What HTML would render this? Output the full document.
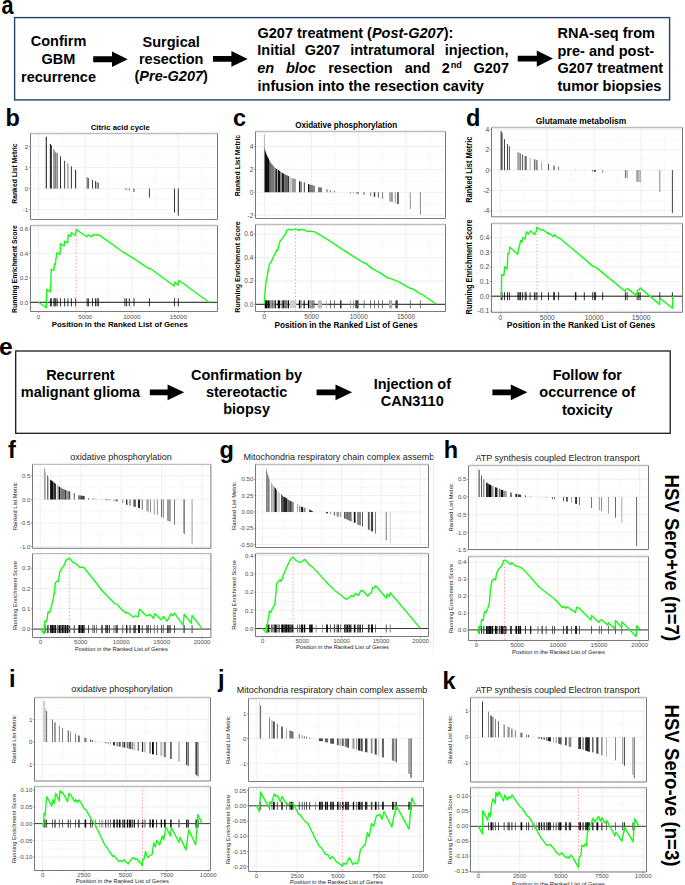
<!DOCTYPE html>
<html><head><meta charset="utf-8"><title>Figure</title>
<style>
html,body{margin:0;padding:0;background:#fff;}
body{width:685px;height:885px;overflow:hidden;}
svg{display:block;}
svg text{font-family:"Liberation Sans", sans-serif;}
</style></head><body>
<svg width="685" height="885" viewBox="0 0 685 885">
<rect width="685" height="885" fill="#fff"/>
<text transform="translate(1.5,13.5) scale(0.9,1.04)" font-size="24" font-weight="bold" fill="#000">a</text>
<rect x="14.6" y="17.6" width="655" height="82.3" fill="none" stroke="#27406b" stroke-width="1.4"/>
<text x="58.5" y="46.3" font-size="14.5" text-anchor="middle" font-weight="bold" font-style="normal" fill="#000" >Confirm</text>
<text x="58.5" y="63.8" font-size="14.5" text-anchor="middle" font-weight="bold" font-style="normal" fill="#000" >GBM</text>
<text x="58.5" y="81.7" font-size="14.5" text-anchor="middle" font-weight="bold" font-style="normal" fill="#000" >recurrence</text>
<polygon points="93.2,56.2 112,56.2 112,51.45 127.7,59.2 112,66.95 112,62.2 93.2,62.2" fill="#000"/>
<text x="171.2" y="46.6" font-size="14.5" text-anchor="middle" font-weight="bold" font-style="normal" fill="#000" >Surgical</text>
<text x="171.2" y="63.5" font-size="14.5" text-anchor="middle" font-weight="bold" font-style="normal" fill="#000" >resection</text>
<text x="171.2" y="80.9" font-size="14.5" text-anchor="middle" font-weight="bold" font-style="normal" fill="#000" >(<tspan font-style="italic">Pre-G207</tspan>)</text>
<polygon points="213,56 231.4,56 231.4,51 247.7,58.9 231.4,66.8 231.4,61.8 213,61.8" fill="#000"/>
<text x="257.5" y="37.5" font-size="14.5" text-anchor="start" font-weight="bold" font-style="normal" fill="#000" >G207 treatment (<tspan font-style="italic">Post-G207</tspan>):</text>
<text x="257.3" y="55" font-size="14.5" text-anchor="start" font-weight="bold" font-style="normal" fill="#000" >Initial</text>
<text x="304.7" y="55" font-size="14.5" text-anchor="start" font-weight="bold" font-style="normal" fill="#000" >G207</text>
<text x="350.2" y="55" font-size="14.5" text-anchor="start" font-weight="bold" font-style="normal" fill="#000" >intratumoral</text>
<text x="444.8" y="55" font-size="14.5" text-anchor="start" font-weight="bold" font-style="normal" fill="#000" >injection,</text>
<text x="257.3" y="72.6" font-size="14.5" text-anchor="start" font-weight="bold" font-style="italic" fill="#000" >en</text>
<text x="285.9" y="72.6" font-size="14.5" text-anchor="start" font-weight="bold" font-style="italic" fill="#000" >bloc</text>
<text x="328.2" y="72.6" font-size="14.5" text-anchor="start" font-weight="bold" font-style="normal" fill="#000" >resection</text>
<text x="404.7" y="72.6" font-size="14.5" text-anchor="start" font-weight="bold" font-style="normal" fill="#000" >and</text>
<text x="441.7" y="72.6" font-size="14.5" text-anchor="start" font-weight="bold" font-style="normal" fill="#000" >2</text>
<text x="473.5" y="72.6" font-size="14.5" text-anchor="start" font-weight="bold" font-style="normal" fill="#000" >G207</text>
<text x="450.7" y="68.3" font-size="9.2" text-anchor="start" font-weight="bold" font-style="normal" fill="#000" >nd</text>
<text x="257.5" y="90.5" font-size="14.5" text-anchor="start" font-weight="bold" font-style="normal" fill="#000" >infusion into the resection cavity</text>
<polygon points="517.7,55.8 536.8,55.8 536.8,50.45 552.9,58.6 536.8,66.75 536.8,61.4 517.7,61.4" fill="#000"/>
<text x="557.5" y="37.6" font-size="14.5" text-anchor="start" font-weight="bold" font-style="normal" fill="#000" >RNA-seq from</text>
<text x="557.5" y="55.5" font-size="14.5" text-anchor="start" font-weight="bold" font-style="normal" fill="#000" >pre- and post-</text>
<text x="557.5" y="72.6" font-size="14.5" text-anchor="start" font-weight="bold" font-style="normal" fill="#000" >G207 treatment</text>
<text x="557.5" y="90.5" font-size="14.5" text-anchor="start" font-weight="bold" font-style="normal" fill="#000" >tumor biopsies</text>
<text x="-1" y="355.2" font-size="24.6" text-anchor="start" font-weight="bold" font-style="normal" fill="#000" >e</text>
<rect x="15.7" y="351" width="654.5" height="82.3" fill="none" stroke="#1a1a1a" stroke-width="1.3"/>
<text x="80.4" y="379.7" font-size="14.5" text-anchor="middle" font-weight="bold" font-style="normal" fill="#000" >Recurrent</text>
<text x="80.4" y="397.3" font-size="14.5" text-anchor="middle" font-weight="bold" font-style="normal" fill="#000" >malignant glioma</text>
<polygon points="149.8,389.4 167.6,389.4 167.6,384.4 184.2,392.3 167.6,400.2 167.6,395.2 149.8,395.2" fill="#000"/>
<text x="246.6" y="379.7" font-size="14.5" text-anchor="middle" font-weight="bold" font-style="normal" fill="#000" >Confirmation by</text>
<text x="246.6" y="397.3" font-size="14.5" text-anchor="middle" font-weight="bold" font-style="normal" fill="#000" >stereotactic</text>
<text x="246.6" y="414.4" font-size="14.5" text-anchor="middle" font-weight="bold" font-style="normal" fill="#000" >biopsy</text>
<polygon points="316.6,389.4 335.5,389.4 335.5,384.4 352.1,392.3 335.5,400.2 335.5,395.2 316.6,395.2" fill="#000"/>
<text x="412.3" y="388.9" font-size="14.5" text-anchor="middle" font-weight="bold" font-style="normal" fill="#000" >Injection of</text>
<text x="412.3" y="406" font-size="14.5" text-anchor="middle" font-weight="bold" font-style="normal" fill="#000" >CAN3110</text>
<polygon points="492.4,389.4 510.8,389.4 510.8,384.4 527.4,392.3 510.8,400.2 510.8,395.2 492.4,395.2" fill="#000"/>
<text x="587.3" y="380" font-size="14.5" text-anchor="middle" font-weight="bold" font-style="normal" fill="#000" >Follow for</text>
<text x="587.3" y="397" font-size="14.5" text-anchor="middle" font-weight="bold" font-style="normal" fill="#000" >occurrence of</text>
<text x="587.3" y="414.6" font-size="14.5" text-anchor="middle" font-weight="bold" font-style="normal" fill="#000" >toxicity</text>
<text x="5.5" y="126" font-size="23.5" text-anchor="start" font-weight="bold" font-style="normal" fill="#000" >b</text>
<text x="120.25" y="130.3" font-size="7.8" text-anchor="middle" font-weight="bold" font-style="normal" fill="#000" textLength="59" lengthAdjust="spacingAndGlyphs">Citric acid cycle</text>
<line x1="61.89" y1="133.5" x2="61.89" y2="219.5" stroke="#f4f4f4" stroke-width="0.6"/>
<line x1="108.45" y1="133.5" x2="108.45" y2="219.5" stroke="#f4f4f4" stroke-width="0.6"/>
<line x1="155.03" y1="133.5" x2="155.03" y2="219.5" stroke="#f4f4f4" stroke-width="0.6"/>
<line x1="201.59" y1="133.5" x2="201.59" y2="219.5" stroke="#f4f4f4" stroke-width="0.6"/>
<line x1="30.5" y1="199.1" x2="217.5" y2="199.1" stroke="#f4f4f4" stroke-width="0.6"/>
<line x1="30.5" y1="178.1" x2="217.5" y2="178.1" stroke="#f4f4f4" stroke-width="0.6"/>
<line x1="30.5" y1="157.1" x2="217.5" y2="157.1" stroke="#f4f4f4" stroke-width="0.6"/>
<line x1="30.5" y1="136.1" x2="217.5" y2="136.1" stroke="#f4f4f4" stroke-width="0.6"/>
<line x1="38.6" y1="133.5" x2="38.6" y2="219.5" stroke="#ebebeb" stroke-width="0.8"/>
<line x1="85.17" y1="133.5" x2="85.17" y2="219.5" stroke="#ebebeb" stroke-width="0.8"/>
<line x1="131.74" y1="133.5" x2="131.74" y2="219.5" stroke="#ebebeb" stroke-width="0.8"/>
<line x1="178.31" y1="133.5" x2="178.31" y2="219.5" stroke="#ebebeb" stroke-width="0.8"/>
<line x1="30.5" y1="209.6" x2="217.5" y2="209.6" stroke="#ebebeb" stroke-width="0.8"/>
<line x1="28.9" y1="209.6" x2="30.5" y2="209.6" stroke="#7a7a7a" stroke-width="0.7"/>
<text x="28.3" y="211.83" font-size="6.2" text-anchor="end" font-weight="normal" font-style="normal" fill="#4d4d4d" >-1</text>
<line x1="30.5" y1="188.6" x2="217.5" y2="188.6" stroke="#ebebeb" stroke-width="0.8"/>
<line x1="28.9" y1="188.6" x2="30.5" y2="188.6" stroke="#7a7a7a" stroke-width="0.7"/>
<text x="28.3" y="190.83" font-size="6.2" text-anchor="end" font-weight="normal" font-style="normal" fill="#4d4d4d" >0</text>
<line x1="30.5" y1="167.6" x2="217.5" y2="167.6" stroke="#ebebeb" stroke-width="0.8"/>
<line x1="28.9" y1="167.6" x2="30.5" y2="167.6" stroke="#7a7a7a" stroke-width="0.7"/>
<text x="28.3" y="169.83" font-size="6.2" text-anchor="end" font-weight="normal" font-style="normal" fill="#4d4d4d" >1</text>
<line x1="30.5" y1="146.6" x2="217.5" y2="146.6" stroke="#ebebeb" stroke-width="0.8"/>
<line x1="28.9" y1="146.6" x2="30.5" y2="146.6" stroke="#7a7a7a" stroke-width="0.7"/>
<text x="28.3" y="148.83" font-size="6.2" text-anchor="end" font-weight="normal" font-style="normal" fill="#4d4d4d" >2</text>
<text transform="translate(17,173.6) rotate(-90)" font-size="6.9" text-anchor="middle" font-weight="bold" fill="#000" textLength="60.1" lengthAdjust="spacingAndGlyphs">Ranked List Metric</text>
<line x1="61.89" y1="225.5" x2="61.89" y2="311.5" stroke="#f4f4f4" stroke-width="0.6"/>
<line x1="108.45" y1="225.5" x2="108.45" y2="311.5" stroke="#f4f4f4" stroke-width="0.6"/>
<line x1="155.03" y1="225.5" x2="155.03" y2="311.5" stroke="#f4f4f4" stroke-width="0.6"/>
<line x1="201.59" y1="225.5" x2="201.59" y2="311.5" stroke="#f4f4f4" stroke-width="0.6"/>
<line x1="30.5" y1="290.05" x2="217.5" y2="290.05" stroke="#f4f4f4" stroke-width="0.6"/>
<line x1="30.5" y1="265.55" x2="217.5" y2="265.55" stroke="#f4f4f4" stroke-width="0.6"/>
<line x1="30.5" y1="241.05" x2="217.5" y2="241.05" stroke="#f4f4f4" stroke-width="0.6"/>
<line x1="38.6" y1="225.5" x2="38.6" y2="311.5" stroke="#ebebeb" stroke-width="0.8"/>
<line x1="85.17" y1="225.5" x2="85.17" y2="311.5" stroke="#ebebeb" stroke-width="0.8"/>
<line x1="131.74" y1="225.5" x2="131.74" y2="311.5" stroke="#ebebeb" stroke-width="0.8"/>
<line x1="178.31" y1="225.5" x2="178.31" y2="311.5" stroke="#ebebeb" stroke-width="0.8"/>
<line x1="30.5" y1="302.3" x2="217.5" y2="302.3" stroke="#ebebeb" stroke-width="0.8"/>
<line x1="28.9" y1="302.3" x2="30.5" y2="302.3" stroke="#7a7a7a" stroke-width="0.7"/>
<text x="28.3" y="304.53" font-size="6.2" text-anchor="end" font-weight="normal" font-style="normal" fill="#4d4d4d" >0.0</text>
<line x1="30.5" y1="277.8" x2="217.5" y2="277.8" stroke="#ebebeb" stroke-width="0.8"/>
<line x1="28.9" y1="277.8" x2="30.5" y2="277.8" stroke="#7a7a7a" stroke-width="0.7"/>
<text x="28.3" y="280.03" font-size="6.2" text-anchor="end" font-weight="normal" font-style="normal" fill="#4d4d4d" >0.2</text>
<line x1="30.5" y1="253.3" x2="217.5" y2="253.3" stroke="#ebebeb" stroke-width="0.8"/>
<line x1="28.9" y1="253.3" x2="30.5" y2="253.3" stroke="#7a7a7a" stroke-width="0.7"/>
<text x="28.3" y="255.53" font-size="6.2" text-anchor="end" font-weight="normal" font-style="normal" fill="#4d4d4d" >0.4</text>
<line x1="30.5" y1="228.8" x2="217.5" y2="228.8" stroke="#ebebeb" stroke-width="0.8"/>
<line x1="28.9" y1="228.8" x2="30.5" y2="228.8" stroke="#7a7a7a" stroke-width="0.7"/>
<text x="28.3" y="231.03" font-size="6.2" text-anchor="end" font-weight="normal" font-style="normal" fill="#4d4d4d" >0.6</text>
<text transform="translate(16.6,269) rotate(-90)" font-size="6.9" text-anchor="middle" font-weight="bold" fill="#000" textLength="87.8" lengthAdjust="spacingAndGlyphs">Running Enrichment Score</text>
<g>
<line x1="46.3" y1="188.6" x2="46.3" y2="136.8" stroke="#222" stroke-width="1.1"/>
<line x1="50.4" y1="188.6" x2="50.4" y2="144.1" stroke="#222" stroke-width="1.1"/>
<line x1="51.4" y1="188.6" x2="51.4" y2="145.3" stroke="#333" stroke-width="1"/>
<line x1="53.9" y1="188.6" x2="53.9" y2="149.3" stroke="#666" stroke-width="1"/>
<line x1="54.9" y1="188.6" x2="54.9" y2="151.4" stroke="#777" stroke-width="1"/>
<line x1="55.8" y1="188.6" x2="55.8" y2="152.3" stroke="#666" stroke-width="1"/>
<line x1="57.2" y1="188.6" x2="57.2" y2="153.1" stroke="#555" stroke-width="1"/>
<line x1="60.5" y1="188.6" x2="60.5" y2="156.4" stroke="#333" stroke-width="1"/>
<line x1="64.6" y1="188.6" x2="64.6" y2="160.7" stroke="#444" stroke-width="1"/>
<line x1="67.9" y1="188.6" x2="67.9" y2="163.4" stroke="#777" stroke-width="1"/>
<line x1="71.4" y1="188.6" x2="71.4" y2="166.3" stroke="#333" stroke-width="1"/>
<line x1="75.6" y1="188.6" x2="75.6" y2="169.8" stroke="#333" stroke-width="1.1"/>
<line x1="87.2" y1="188.6" x2="87.2" y2="177.3" stroke="#555" stroke-width="1"/>
<line x1="88.4" y1="188.6" x2="88.4" y2="178" stroke="#555" stroke-width="1"/>
<line x1="92.5" y1="188.6" x2="92.5" y2="180" stroke="#444" stroke-width="1"/>
<line x1="95.5" y1="188.6" x2="95.5" y2="181.1" stroke="#444" stroke-width="1"/>
<line x1="97.1" y1="188.6" x2="97.1" y2="182" stroke="#666" stroke-width="1"/>
<line x1="98.4" y1="188.6" x2="98.4" y2="182.9" stroke="#666" stroke-width="1"/>
<line x1="124.9" y1="188.6" x2="124.9" y2="189.6" stroke="#444" stroke-width="0.8"/>
<line x1="126.6" y1="188.6" x2="126.6" y2="189.8" stroke="#444" stroke-width="0.8"/>
<line x1="129.3" y1="188.6" x2="129.3" y2="190.4" stroke="#444" stroke-width="0.8"/>
<line x1="134" y1="188.6" x2="134" y2="192" stroke="#444" stroke-width="1"/>
<line x1="149.4" y1="188.6" x2="149.4" y2="197.6" stroke="#444" stroke-width="1"/>
<line x1="174.5" y1="188.6" x2="174.5" y2="212.6" stroke="#333" stroke-width="1"/>
<line x1="178.3" y1="188.6" x2="178.3" y2="215.6" stroke="#333" stroke-width="1"/>
</g>
<line x1="30.5" y1="302.3" x2="217.5" y2="302.3" stroke="#000" stroke-width="0.9"/>
<line x1="46.3" y1="298.3" x2="46.3" y2="306.3" stroke="#000" stroke-width="0.8"/>
<line x1="50.4" y1="298.3" x2="50.4" y2="306.3" stroke="#000" stroke-width="0.8"/>
<line x1="51.4" y1="298.3" x2="51.4" y2="306.3" stroke="#000" stroke-width="0.8"/>
<line x1="53.9" y1="298.3" x2="53.9" y2="306.3" stroke="#000" stroke-width="0.8"/>
<line x1="54.9" y1="298.3" x2="54.9" y2="306.3" stroke="#000" stroke-width="0.8"/>
<line x1="55.8" y1="298.3" x2="55.8" y2="306.3" stroke="#000" stroke-width="0.8"/>
<line x1="57.2" y1="298.3" x2="57.2" y2="306.3" stroke="#000" stroke-width="0.8"/>
<line x1="60.5" y1="298.3" x2="60.5" y2="306.3" stroke="#000" stroke-width="0.8"/>
<line x1="64.6" y1="298.3" x2="64.6" y2="306.3" stroke="#000" stroke-width="0.8"/>
<line x1="67.9" y1="298.3" x2="67.9" y2="306.3" stroke="#000" stroke-width="0.8"/>
<line x1="71.4" y1="298.3" x2="71.4" y2="306.3" stroke="#000" stroke-width="0.8"/>
<line x1="75.6" y1="298.3" x2="75.6" y2="306.3" stroke="#000" stroke-width="0.8"/>
<line x1="87.2" y1="298.3" x2="87.2" y2="306.3" stroke="#000" stroke-width="0.8"/>
<line x1="88.4" y1="298.3" x2="88.4" y2="306.3" stroke="#000" stroke-width="0.8"/>
<line x1="92.5" y1="298.3" x2="92.5" y2="306.3" stroke="#000" stroke-width="0.8"/>
<line x1="95.5" y1="298.3" x2="95.5" y2="306.3" stroke="#000" stroke-width="0.8"/>
<line x1="97.1" y1="298.3" x2="97.1" y2="306.3" stroke="#000" stroke-width="0.8"/>
<line x1="98.4" y1="298.3" x2="98.4" y2="306.3" stroke="#000" stroke-width="0.8"/>
<line x1="124.9" y1="298.3" x2="124.9" y2="306.3" stroke="#000" stroke-width="0.8"/>
<line x1="126.6" y1="298.3" x2="126.6" y2="306.3" stroke="#000" stroke-width="0.8"/>
<line x1="129.3" y1="298.3" x2="129.3" y2="306.3" stroke="#000" stroke-width="0.8"/>
<line x1="134" y1="298.3" x2="134" y2="306.3" stroke="#000" stroke-width="0.8"/>
<line x1="149.4" y1="298.3" x2="149.4" y2="306.3" stroke="#000" stroke-width="0.8"/>
<line x1="174.5" y1="298.3" x2="174.5" y2="306.3" stroke="#000" stroke-width="0.8"/>
<line x1="178.3" y1="298.3" x2="178.3" y2="306.3" stroke="#000" stroke-width="0.8"/>
<line x1="76.2" y1="225.5" x2="76.2" y2="311.5" stroke="#ff8c8c" stroke-width="0.9" stroke-dasharray="1.3,2.1"/>
<polyline points="38.6,302.3 46.4,307.8 46.8,289.4 50.3,292 50.8,283.8 51.3,269 53.9,270.5 54.4,263.9 55.4,264.4 56,258.3 57,252.7 60,254.5 60.5,243.5 64.1,246 64.6,241.2 67.7,243 68.2,234.8 70.8,236.3 71.5,232.7 75.4,235.3 76.2,229.4 86.8,236.8 88.1,234.8 91.7,236.8 93,234.5 95.3,235.1 96.5,234.8 99.4,235.1 124,252.7 132.8,257.9 135.4,259.7 148.5,268.4 150,268.2 174,286 174.8,282.1 178,285.1 178.9,280.3 209,302.3" fill="none" stroke="#19fa19" stroke-width="1.4" stroke-linejoin="round"/>
<line x1="38.6" y1="311.5" x2="38.6" y2="313.1" stroke="#7a7a7a" stroke-width="0.7"/>
<text x="38.6" y="319.1" font-size="6.2" text-anchor="middle" font-weight="normal" font-style="normal" fill="#4d4d4d" >0</text>
<line x1="85.17" y1="311.5" x2="85.17" y2="313.1" stroke="#7a7a7a" stroke-width="0.7"/>
<text x="85.17" y="319.1" font-size="6.2" text-anchor="middle" font-weight="normal" font-style="normal" fill="#4d4d4d" >5000</text>
<line x1="131.74" y1="311.5" x2="131.74" y2="313.1" stroke="#7a7a7a" stroke-width="0.7"/>
<text x="131.74" y="319.1" font-size="6.2" text-anchor="middle" font-weight="normal" font-style="normal" fill="#4d4d4d" >10000</text>
<line x1="178.31" y1="311.5" x2="178.31" y2="313.1" stroke="#7a7a7a" stroke-width="0.7"/>
<text x="178.31" y="319.1" font-size="6.2" text-anchor="middle" font-weight="normal" font-style="normal" fill="#4d4d4d" >15000</text>
<text x="119.85" y="326.8" font-size="7.9" text-anchor="middle" font-weight="bold" font-style="normal" fill="#000" textLength="136" lengthAdjust="spacingAndGlyphs">Position in the Ranked List of Genes</text>
<line x1="30.5" y1="133.5" x2="217.5" y2="133.5" stroke="#bdbdbd" stroke-width="1.3"/>
<polyline points="30.5,133.5 30.5,219.5 217.5,219.5 217.5,133.5" fill="none" stroke="#7a7a7a" stroke-width="1"/>
<line x1="30.5" y1="225.5" x2="217.5" y2="225.5" stroke="#bdbdbd" stroke-width="1.3"/>
<polyline points="30.5,225.5 30.5,311.5 217.5,311.5 217.5,225.5" fill="none" stroke="#7a7a7a" stroke-width="1"/>
<text x="233" y="126" font-size="23.5" text-anchor="start" font-weight="bold" font-style="normal" fill="#000" >c</text>
<text x="346.15" y="128.1" font-size="8.3" text-anchor="middle" font-weight="bold" font-style="normal" fill="#000" textLength="102" lengthAdjust="spacingAndGlyphs">Oxidative phosphorylation</text>
<line x1="288" y1="131.5" x2="288" y2="218.5" stroke="#f4f4f4" stroke-width="0.6"/>
<line x1="335.2" y1="131.5" x2="335.2" y2="218.5" stroke="#f4f4f4" stroke-width="0.6"/>
<line x1="382.4" y1="131.5" x2="382.4" y2="218.5" stroke="#f4f4f4" stroke-width="0.6"/>
<line x1="429.6" y1="131.5" x2="429.6" y2="218.5" stroke="#f4f4f4" stroke-width="0.6"/>
<line x1="255.5" y1="203.75" x2="445.5" y2="203.75" stroke="#f4f4f4" stroke-width="0.6"/>
<line x1="255.5" y1="180.85" x2="445.5" y2="180.85" stroke="#f4f4f4" stroke-width="0.6"/>
<line x1="255.5" y1="157.95" x2="445.5" y2="157.95" stroke="#f4f4f4" stroke-width="0.6"/>
<line x1="255.5" y1="135.05" x2="445.5" y2="135.05" stroke="#f4f4f4" stroke-width="0.6"/>
<line x1="264.4" y1="131.5" x2="264.4" y2="218.5" stroke="#ebebeb" stroke-width="0.8"/>
<line x1="311.6" y1="131.5" x2="311.6" y2="218.5" stroke="#ebebeb" stroke-width="0.8"/>
<line x1="358.8" y1="131.5" x2="358.8" y2="218.5" stroke="#ebebeb" stroke-width="0.8"/>
<line x1="406" y1="131.5" x2="406" y2="218.5" stroke="#ebebeb" stroke-width="0.8"/>
<line x1="255.5" y1="215.2" x2="445.5" y2="215.2" stroke="#ebebeb" stroke-width="0.8"/>
<line x1="253.9" y1="215.2" x2="255.5" y2="215.2" stroke="#7a7a7a" stroke-width="0.7"/>
<text x="253.3" y="217.54" font-size="6.5" text-anchor="end" font-weight="normal" font-style="normal" fill="#4d4d4d" >-2</text>
<line x1="255.5" y1="192.3" x2="445.5" y2="192.3" stroke="#ebebeb" stroke-width="0.8"/>
<line x1="253.9" y1="192.3" x2="255.5" y2="192.3" stroke="#7a7a7a" stroke-width="0.7"/>
<text x="253.3" y="194.64" font-size="6.5" text-anchor="end" font-weight="normal" font-style="normal" fill="#4d4d4d" >0</text>
<line x1="255.5" y1="169.4" x2="445.5" y2="169.4" stroke="#ebebeb" stroke-width="0.8"/>
<line x1="253.9" y1="169.4" x2="255.5" y2="169.4" stroke="#7a7a7a" stroke-width="0.7"/>
<text x="253.3" y="171.74" font-size="6.5" text-anchor="end" font-weight="normal" font-style="normal" fill="#4d4d4d" >2</text>
<line x1="255.5" y1="146.5" x2="445.5" y2="146.5" stroke="#ebebeb" stroke-width="0.8"/>
<line x1="253.9" y1="146.5" x2="255.5" y2="146.5" stroke="#7a7a7a" stroke-width="0.7"/>
<text x="253.3" y="148.84" font-size="6.5" text-anchor="end" font-weight="normal" font-style="normal" fill="#4d4d4d" >4</text>
<text transform="translate(240,165.5) rotate(-90)" font-size="7.7" text-anchor="middle" font-weight="bold" fill="#000" textLength="61.3" lengthAdjust="spacingAndGlyphs">Ranked List Metric</text>
<line x1="288" y1="224.5" x2="288" y2="311.5" stroke="#f4f4f4" stroke-width="0.6"/>
<line x1="335.2" y1="224.5" x2="335.2" y2="311.5" stroke="#f4f4f4" stroke-width="0.6"/>
<line x1="382.4" y1="224.5" x2="382.4" y2="311.5" stroke="#f4f4f4" stroke-width="0.6"/>
<line x1="429.6" y1="224.5" x2="429.6" y2="311.5" stroke="#f4f4f4" stroke-width="0.6"/>
<line x1="255.5" y1="292.6" x2="445.5" y2="292.6" stroke="#f4f4f4" stroke-width="0.6"/>
<line x1="255.5" y1="269.2" x2="445.5" y2="269.2" stroke="#f4f4f4" stroke-width="0.6"/>
<line x1="255.5" y1="245.8" x2="445.5" y2="245.8" stroke="#f4f4f4" stroke-width="0.6"/>
<line x1="264.4" y1="224.5" x2="264.4" y2="311.5" stroke="#ebebeb" stroke-width="0.8"/>
<line x1="311.6" y1="224.5" x2="311.6" y2="311.5" stroke="#ebebeb" stroke-width="0.8"/>
<line x1="358.8" y1="224.5" x2="358.8" y2="311.5" stroke="#ebebeb" stroke-width="0.8"/>
<line x1="406" y1="224.5" x2="406" y2="311.5" stroke="#ebebeb" stroke-width="0.8"/>
<line x1="255.5" y1="304.3" x2="445.5" y2="304.3" stroke="#ebebeb" stroke-width="0.8"/>
<line x1="253.9" y1="304.3" x2="255.5" y2="304.3" stroke="#7a7a7a" stroke-width="0.7"/>
<text x="253.3" y="306.64" font-size="6.5" text-anchor="end" font-weight="normal" font-style="normal" fill="#4d4d4d" >0.0</text>
<line x1="255.5" y1="280.9" x2="445.5" y2="280.9" stroke="#ebebeb" stroke-width="0.8"/>
<line x1="253.9" y1="280.9" x2="255.5" y2="280.9" stroke="#7a7a7a" stroke-width="0.7"/>
<text x="253.3" y="283.24" font-size="6.5" text-anchor="end" font-weight="normal" font-style="normal" fill="#4d4d4d" >0.2</text>
<line x1="255.5" y1="257.5" x2="445.5" y2="257.5" stroke="#ebebeb" stroke-width="0.8"/>
<line x1="253.9" y1="257.5" x2="255.5" y2="257.5" stroke="#7a7a7a" stroke-width="0.7"/>
<text x="253.3" y="259.84" font-size="6.5" text-anchor="end" font-weight="normal" font-style="normal" fill="#4d4d4d" >0.4</text>
<line x1="255.5" y1="234.1" x2="445.5" y2="234.1" stroke="#ebebeb" stroke-width="0.8"/>
<line x1="253.9" y1="234.1" x2="255.5" y2="234.1" stroke="#7a7a7a" stroke-width="0.7"/>
<text x="253.3" y="236.44" font-size="6.5" text-anchor="end" font-weight="normal" font-style="normal" fill="#4d4d4d" >0.6</text>
<text transform="translate(239.6,267) rotate(-90)" font-size="7.7" text-anchor="middle" font-weight="bold" fill="#000" textLength="91.4" lengthAdjust="spacingAndGlyphs">Running Enrichment Score</text>
<g>
<line x1="264.4" y1="192.3" x2="264.4" y2="134.8" stroke="#999" stroke-width="0.7"/>
<line x1="330.3" y1="192.3" x2="330.3" y2="190.1" stroke="#555" stroke-width="0.9"/>
<line x1="334.4" y1="192.3" x2="334.4" y2="191" stroke="#666" stroke-width="0.9"/>
<line x1="350.3" y1="192.3" x2="350.3" y2="193.5" stroke="#555" stroke-width="0.8"/>
<line x1="353.6" y1="192.3" x2="353.6" y2="193.3" stroke="#777" stroke-width="0.8"/>
<line x1="356.9" y1="192.3" x2="356.9" y2="193.7" stroke="#333" stroke-width="1"/>
<line x1="358.2" y1="192.3" x2="358.2" y2="193.7" stroke="#333" stroke-width="1"/>
<line x1="364" y1="192.3" x2="364" y2="194.7" stroke="#666" stroke-width="1.2"/>
<line x1="370.7" y1="192.3" x2="370.7" y2="195.8" stroke="#999" stroke-width="1.5"/>
<line x1="374.5" y1="192.3" x2="374.5" y2="196.8" stroke="#333" stroke-width="1.4"/>
<line x1="378.4" y1="192.3" x2="378.4" y2="197.6" stroke="#555" stroke-width="1"/>
<line x1="382.5" y1="192.3" x2="382.5" y2="198.8" stroke="#888" stroke-width="1.2"/>
<line x1="389.9" y1="192.3" x2="389.9" y2="201.5" stroke="#999" stroke-width="1.4"/>
<line x1="391.3" y1="192.3" x2="391.3" y2="201.8" stroke="#999" stroke-width="1.4"/>
<line x1="392.4" y1="192.3" x2="392.4" y2="202" stroke="#999" stroke-width="1"/>
<line x1="395.3" y1="192.3" x2="395.3" y2="203" stroke="#777" stroke-width="0.8"/>
<line x1="397.6" y1="192.3" x2="397.6" y2="204" stroke="#444" stroke-width="0.9"/>
<line x1="398.3" y1="192.3" x2="398.3" y2="204" stroke="#444" stroke-width="0.9"/>
<line x1="410.3" y1="192.3" x2="410.3" y2="209.1" stroke="#888" stroke-width="0.9"/>
<line x1="420.4" y1="192.3" x2="420.4" y2="214.7" stroke="#888" stroke-width="1"/>
<polygon points="264.1,192.3 264.1,146.33 264.6,148 264.8,148.84 264.8,192.3" fill="#888"/>
<polygon points="264.8,192.3 264.8,148.84 265.1,150.1 266.6,154.5 268.3,158 269.6,160.89 269.6,192.3" fill="#111"/>
<polygon points="269.6,192.3 269.6,160.89 270.1,162 270.9,162.95 270.9,192.3" fill="#555"/>
<polygon points="270.9,192.3 270.9,162.95 272.3,164.6 274,166.61 274,192.3" fill="#777"/>
<polygon points="274,192.3 274,166.61 274.5,167.2 275.3,167.89 275.3,192.3" fill="#999"/>
<polygon points="275.3,192.3 275.3,167.89 276.6,169 277.1,169.31 277.1,192.3" fill="#222"/>
<polygon points="277.1,192.3 277.1,169.31 278,169.86 278,192.3" fill="#999"/>
<polygon points="278,192.3 278,169.86 278.4,170.1 280,171.27 280,192.3" fill="#111"/>
<polygon points="280,192.3 280,171.27 281,172 281.9,172.57 281.9,192.3" fill="#888"/>
<polygon points="281.9,192.3 281.9,172.57 283.2,173.4 284.1,173.85 284.1,192.3" fill="#222"/>
<polygon points="284.1,192.3 284.1,173.85 285.8,174.7 288,175.76 288,192.3" fill="#666"/>
<polygon points="288,192.3 288,175.76 288.5,176 288.9,176.31 288.9,192.3" fill="#111"/>
<polygon points="288.9,192.3 288.9,176.31 290.2,177.3 292,178.04 292,192.3" fill="#ccc"/>
<polygon points="292,192.3 292,178.04 292.4,178.2 295.9,178.98 295.9,192.3" fill="#999"/>
<polygon points="299,192.3 299,180.88 300.3,181.41 300.3,192.3" fill="#222"/>
<polygon points="300.3,192.3 300.3,181.41 301.9,182.06 301.9,192.3" fill="#777"/>
<polygon points="303.8,192.3 303.8,182.28 304.8,182.38 304.8,192.3" fill="#333"/>
<polygon points="308,192.3 308,183.9 309,184.22 309,192.3" fill="#111"/>
<polygon points="309,192.3 309,184.22 312.6,185.37 312.6,192.3" fill="#777"/>
<polygon points="312.6,192.3 312.6,185.37 313,185.5 313.6,185.66 313.6,192.3" fill="#333"/>
<polygon points="313.6,192.3 313.6,185.66 315,186.05 315,192.3" fill="#888"/>
<polygon points="318,192.3 318,187.2 322,187.58 322,192.3" fill="#777"/>
<polygon points="326.2,192.3 326.2,189.11 327.8,189.19 327.8,192.3" fill="#999"/>
</g>
<line x1="255.5" y1="304.3" x2="445.5" y2="304.3" stroke="#000" stroke-width="0.9"/>
<rect x="264.8" y="300.3" width="2.2" height="8" fill="#000"/>
<rect x="267.3" y="300.3" width="2.4" height="8" fill="#111"/>
<rect x="270" y="300.3" width="2" height="8" fill="#999"/>
<rect x="272" y="300.3" width="0.7" height="8" fill="#333"/>
<rect x="272.7" y="300.3" width="2" height="8" fill="#999"/>
<rect x="274.8" y="300.3" width="1.1" height="8" fill="#111"/>
<rect x="277.7" y="300.3" width="2.2" height="8" fill="#000"/>
<rect x="280.6" y="300.3" width="1.1" height="8" fill="#999"/>
<rect x="282.4" y="300.3" width="1.5" height="8" fill="#000"/>
<rect x="283.9" y="300.3" width="3.6" height="8" fill="#777"/>
<rect x="287.9" y="300.3" width="1.1" height="8" fill="#000"/>
<rect x="289.7" y="300.3" width="6.6" height="8" fill="#d0d0d0"/>
<rect x="298.9" y="300.3" width="1.4" height="8" fill="#000"/>
<rect x="300.3" y="300.3" width="1.5" height="8" fill="#999"/>
<rect x="303.6" y="300.3" width="1.1" height="8" fill="#000"/>
<rect x="307.9" y="300.3" width="1.1" height="8" fill="#000"/>
<rect x="309" y="300.3" width="3" height="8" fill="#999"/>
<rect x="312" y="300.3" width="0.7" height="8" fill="#444"/>
<rect x="312.7" y="300.3" width="0.9" height="8" fill="#999"/>
<rect x="313.7" y="300.3" width="0.7" height="8" fill="#444"/>
<rect x="318" y="300.3" width="3.9" height="8" fill="#bbb"/>
<rect x="326.1" y="300.3" width="0.8" height="8" fill="#aaa"/>
<rect x="330" y="300.3" width="0.8" height="8" fill="#444"/>
<rect x="333.9" y="300.3" width="0.8" height="8" fill="#444"/>
<rect x="340" y="300.3" width="1.5" height="8" fill="#333"/>
<rect x="349.9" y="300.3" width="0.8" height="8" fill="#888"/>
<rect x="353.1" y="300.3" width="0.8" height="8" fill="#888"/>
<rect x="355.3" y="300.3" width="3.2" height="8" fill="#444"/>
<rect x="363.7" y="300.3" width="0.8" height="8" fill="#555"/>
<rect x="370.1" y="300.3" width="0.8" height="8" fill="#555"/>
<rect x="374.1" y="300.3" width="0.8" height="8" fill="#555"/>
<rect x="378.1" y="300.3" width="0.8" height="8" fill="#555"/>
<rect x="382.2" y="300.3" width="0.8" height="8" fill="#555"/>
<rect x="389" y="300.3" width="3.2" height="8" fill="#aaa"/>
<rect x="395.4" y="300.3" width="2.4" height="8" fill="#444"/>
<rect x="409.9" y="300.3" width="0.8" height="8" fill="#555"/>
<rect x="419.9" y="300.3" width="0.8" height="8" fill="#555"/>
<line x1="295.5" y1="224.5" x2="295.5" y2="311.5" stroke="#ff8c8c" stroke-width="0.9" stroke-dasharray="1.3,2.1"/>
<polyline points="264.4,304.3 264.6,298.7 265.3,289.4 266.1,281.2 267.3,275.4 268.4,269.5 269.6,263.7 271.3,262 272.5,258.5 274.3,255 275.4,253.2 276.6,249.9 277.8,250.3 278.9,245 280.1,240.9 281.9,239.2 283,237.4 284.2,235.4 285.9,233.9 286.5,230.4 288.9,229.3 291.2,229.8 293.5,229.6 295.9,228.9 297.6,229.6 299.1,230.8 300.5,229.3 302.3,229.8 304,229.8 305.8,230.8 308.1,231.6 309.9,231 312.2,231.6 314.6,231.6 316.9,233.3 320.4,235.1 323.9,237.4 329.7,240.9 336.7,245.6 342,249.1 356.1,258.1 364,263 365,262.6 372.1,268.6 378.5,271.8 388.2,278.2 390,278.4 397.8,281.4 410.7,288.6 412,288.4 420.3,293.9 422,294.2 436.4,304.3" fill="none" stroke="#19fa19" stroke-width="1.4" stroke-linejoin="round"/>
<line x1="264.4" y1="311.5" x2="264.4" y2="313.1" stroke="#7a7a7a" stroke-width="0.7"/>
<text x="264.4" y="319.1" font-size="6.5" text-anchor="middle" font-weight="normal" font-style="normal" fill="#4d4d4d" >0</text>
<line x1="311.6" y1="311.5" x2="311.6" y2="313.1" stroke="#7a7a7a" stroke-width="0.7"/>
<text x="311.6" y="319.1" font-size="6.5" text-anchor="middle" font-weight="normal" font-style="normal" fill="#4d4d4d" >5000</text>
<line x1="358.8" y1="311.5" x2="358.8" y2="313.1" stroke="#7a7a7a" stroke-width="0.7"/>
<text x="358.8" y="319.1" font-size="6.5" text-anchor="middle" font-weight="normal" font-style="normal" fill="#4d4d4d" >10000</text>
<line x1="406" y1="311.5" x2="406" y2="313.1" stroke="#7a7a7a" stroke-width="0.7"/>
<text x="406" y="319.1" font-size="6.5" text-anchor="middle" font-weight="normal" font-style="normal" fill="#4d4d4d" >15000</text>
<text x="346" y="328.1" font-size="8.3" text-anchor="middle" font-weight="bold" font-style="normal" fill="#000" textLength="143" lengthAdjust="spacingAndGlyphs">Position in the Ranked List of Genes</text>
<line x1="255.5" y1="131.5" x2="445.5" y2="131.5" stroke="#bdbdbd" stroke-width="1.3"/>
<polyline points="255.5,131.5 255.5,218.5 445.5,218.5 445.5,131.5" fill="none" stroke="#7a7a7a" stroke-width="1"/>
<line x1="255.5" y1="224.5" x2="445.5" y2="224.5" stroke="#bdbdbd" stroke-width="1.3"/>
<polyline points="255.5,224.5 255.5,311.5 445.5,311.5 445.5,224.5" fill="none" stroke="#7a7a7a" stroke-width="1"/>
<text x="466" y="126" font-size="23.5" text-anchor="start" font-weight="bold" font-style="normal" fill="#000" >d</text>
<text x="581" y="124" font-size="8.6" text-anchor="middle" font-weight="bold" font-style="normal" fill="#000" textLength="90.5" lengthAdjust="spacingAndGlyphs">Glutamate metabolism</text>
<line x1="523.85" y1="127.5" x2="523.85" y2="216.8" stroke="#f4f4f4" stroke-width="0.6"/>
<line x1="570.75" y1="127.5" x2="570.75" y2="216.8" stroke="#f4f4f4" stroke-width="0.6"/>
<line x1="617.65" y1="127.5" x2="617.65" y2="216.8" stroke="#f4f4f4" stroke-width="0.6"/>
<line x1="664.55" y1="127.5" x2="664.55" y2="216.8" stroke="#f4f4f4" stroke-width="0.6"/>
<line x1="491.5" y1="200.55" x2="682.5" y2="200.55" stroke="#f4f4f4" stroke-width="0.6"/>
<line x1="491.5" y1="180.25" x2="682.5" y2="180.25" stroke="#f4f4f4" stroke-width="0.6"/>
<line x1="491.5" y1="159.95" x2="682.5" y2="159.95" stroke="#f4f4f4" stroke-width="0.6"/>
<line x1="491.5" y1="139.65" x2="682.5" y2="139.65" stroke="#f4f4f4" stroke-width="0.6"/>
<line x1="500.4" y1="127.5" x2="500.4" y2="216.8" stroke="#ebebeb" stroke-width="0.8"/>
<line x1="547.3" y1="127.5" x2="547.3" y2="216.8" stroke="#ebebeb" stroke-width="0.8"/>
<line x1="594.2" y1="127.5" x2="594.2" y2="216.8" stroke="#ebebeb" stroke-width="0.8"/>
<line x1="641.1" y1="127.5" x2="641.1" y2="216.8" stroke="#ebebeb" stroke-width="0.8"/>
<line x1="491.5" y1="210.7" x2="682.5" y2="210.7" stroke="#ebebeb" stroke-width="0.8"/>
<line x1="489.9" y1="210.7" x2="491.5" y2="210.7" stroke="#7a7a7a" stroke-width="0.7"/>
<text x="489.3" y="213.15" font-size="6.8" text-anchor="end" font-weight="normal" font-style="normal" fill="#4d4d4d" >-4</text>
<line x1="491.5" y1="190.4" x2="682.5" y2="190.4" stroke="#ebebeb" stroke-width="0.8"/>
<line x1="489.9" y1="190.4" x2="491.5" y2="190.4" stroke="#7a7a7a" stroke-width="0.7"/>
<text x="489.3" y="192.85" font-size="6.8" text-anchor="end" font-weight="normal" font-style="normal" fill="#4d4d4d" >-2</text>
<line x1="491.5" y1="170.1" x2="682.5" y2="170.1" stroke="#ebebeb" stroke-width="0.8"/>
<line x1="489.9" y1="170.1" x2="491.5" y2="170.1" stroke="#7a7a7a" stroke-width="0.7"/>
<text x="489.3" y="172.55" font-size="6.8" text-anchor="end" font-weight="normal" font-style="normal" fill="#4d4d4d" >0</text>
<line x1="491.5" y1="149.8" x2="682.5" y2="149.8" stroke="#ebebeb" stroke-width="0.8"/>
<line x1="489.9" y1="149.8" x2="491.5" y2="149.8" stroke="#7a7a7a" stroke-width="0.7"/>
<text x="489.3" y="152.25" font-size="6.8" text-anchor="end" font-weight="normal" font-style="normal" fill="#4d4d4d" >2</text>
<line x1="491.5" y1="129.5" x2="682.5" y2="129.5" stroke="#ebebeb" stroke-width="0.8"/>
<line x1="489.9" y1="129.5" x2="491.5" y2="129.5" stroke="#7a7a7a" stroke-width="0.7"/>
<text x="489.3" y="131.95" font-size="6.8" text-anchor="end" font-weight="normal" font-style="normal" fill="#4d4d4d" >4</text>
<text transform="translate(472.4,169.7) rotate(-90)" font-size="8.2" text-anchor="middle" font-weight="bold" fill="#000" textLength="66.2" lengthAdjust="spacingAndGlyphs">Ranked List Metric</text>
<line x1="523.85" y1="223.5" x2="523.85" y2="312.3" stroke="#f4f4f4" stroke-width="0.6"/>
<line x1="570.75" y1="223.5" x2="570.75" y2="312.3" stroke="#f4f4f4" stroke-width="0.6"/>
<line x1="617.65" y1="223.5" x2="617.65" y2="312.3" stroke="#f4f4f4" stroke-width="0.6"/>
<line x1="664.55" y1="223.5" x2="664.55" y2="312.3" stroke="#f4f4f4" stroke-width="0.6"/>
<line x1="491.5" y1="303.55" x2="682.5" y2="303.55" stroke="#f4f4f4" stroke-width="0.6"/>
<line x1="491.5" y1="288.85" x2="682.5" y2="288.85" stroke="#f4f4f4" stroke-width="0.6"/>
<line x1="491.5" y1="274.15" x2="682.5" y2="274.15" stroke="#f4f4f4" stroke-width="0.6"/>
<line x1="491.5" y1="259.45" x2="682.5" y2="259.45" stroke="#f4f4f4" stroke-width="0.6"/>
<line x1="491.5" y1="244.75" x2="682.5" y2="244.75" stroke="#f4f4f4" stroke-width="0.6"/>
<line x1="491.5" y1="230.05" x2="682.5" y2="230.05" stroke="#f4f4f4" stroke-width="0.6"/>
<line x1="500.4" y1="223.5" x2="500.4" y2="312.3" stroke="#ebebeb" stroke-width="0.8"/>
<line x1="547.3" y1="223.5" x2="547.3" y2="312.3" stroke="#ebebeb" stroke-width="0.8"/>
<line x1="594.2" y1="223.5" x2="594.2" y2="312.3" stroke="#ebebeb" stroke-width="0.8"/>
<line x1="641.1" y1="223.5" x2="641.1" y2="312.3" stroke="#ebebeb" stroke-width="0.8"/>
<line x1="491.5" y1="310.9" x2="682.5" y2="310.9" stroke="#ebebeb" stroke-width="0.8"/>
<line x1="489.9" y1="310.9" x2="491.5" y2="310.9" stroke="#7a7a7a" stroke-width="0.7"/>
<text x="489.3" y="313.35" font-size="6.8" text-anchor="end" font-weight="normal" font-style="normal" fill="#4d4d4d" >-0.1</text>
<line x1="491.5" y1="296.2" x2="682.5" y2="296.2" stroke="#ebebeb" stroke-width="0.8"/>
<line x1="489.9" y1="296.2" x2="491.5" y2="296.2" stroke="#7a7a7a" stroke-width="0.7"/>
<text x="489.3" y="298.65" font-size="6.8" text-anchor="end" font-weight="normal" font-style="normal" fill="#4d4d4d" >0.0</text>
<line x1="491.5" y1="281.5" x2="682.5" y2="281.5" stroke="#ebebeb" stroke-width="0.8"/>
<line x1="489.9" y1="281.5" x2="491.5" y2="281.5" stroke="#7a7a7a" stroke-width="0.7"/>
<text x="489.3" y="283.95" font-size="6.8" text-anchor="end" font-weight="normal" font-style="normal" fill="#4d4d4d" >0.1</text>
<line x1="491.5" y1="266.8" x2="682.5" y2="266.8" stroke="#ebebeb" stroke-width="0.8"/>
<line x1="489.9" y1="266.8" x2="491.5" y2="266.8" stroke="#7a7a7a" stroke-width="0.7"/>
<text x="489.3" y="269.25" font-size="6.8" text-anchor="end" font-weight="normal" font-style="normal" fill="#4d4d4d" >0.2</text>
<line x1="491.5" y1="252.1" x2="682.5" y2="252.1" stroke="#ebebeb" stroke-width="0.8"/>
<line x1="489.9" y1="252.1" x2="491.5" y2="252.1" stroke="#7a7a7a" stroke-width="0.7"/>
<text x="489.3" y="254.55" font-size="6.8" text-anchor="end" font-weight="normal" font-style="normal" fill="#4d4d4d" >0.3</text>
<line x1="491.5" y1="237.4" x2="682.5" y2="237.4" stroke="#ebebeb" stroke-width="0.8"/>
<line x1="489.9" y1="237.4" x2="491.5" y2="237.4" stroke="#7a7a7a" stroke-width="0.7"/>
<text x="489.3" y="239.85" font-size="6.8" text-anchor="end" font-weight="normal" font-style="normal" fill="#4d4d4d" >0.4</text>
<text transform="translate(472.2,266.9) rotate(-90)" font-size="8.2" text-anchor="middle" font-weight="bold" fill="#000" textLength="95" lengthAdjust="spacingAndGlyphs">Running Enrichment Score</text>
<g>
<line x1="501.2" y1="170.1" x2="501.2" y2="131.3" stroke="#333" stroke-width="1.1"/>
<line x1="502.1" y1="170.1" x2="502.1" y2="133.1" stroke="#444" stroke-width="1"/>
<line x1="504.5" y1="170.1" x2="504.5" y2="139.2" stroke="#444" stroke-width="1"/>
<line x1="507.5" y1="170.1" x2="507.5" y2="144.1" stroke="#444" stroke-width="1"/>
<line x1="509.4" y1="170.1" x2="509.4" y2="146" stroke="#555" stroke-width="1"/>
<line x1="517.9" y1="170.1" x2="517.9" y2="151.9" stroke="#888" stroke-width="1"/>
<line x1="518.9" y1="170.1" x2="518.9" y2="152.6" stroke="#888" stroke-width="1"/>
<line x1="520" y1="170.1" x2="520" y2="153.2" stroke="#888" stroke-width="1"/>
<line x1="520.6" y1="170.1" x2="520.6" y2="153.6" stroke="#777" stroke-width="1"/>
<line x1="522.6" y1="170.1" x2="522.6" y2="154.6" stroke="#555" stroke-width="1"/>
<line x1="525.2" y1="170.1" x2="525.2" y2="155.9" stroke="#444" stroke-width="1"/>
<line x1="526.1" y1="170.1" x2="526.1" y2="156.3" stroke="#444" stroke-width="1"/>
<line x1="530.1" y1="170.1" x2="530.1" y2="158.1" stroke="#aaa" stroke-width="1"/>
<line x1="534.4" y1="170.1" x2="534.4" y2="159.2" stroke="#666" stroke-width="1"/>
<line x1="536" y1="170.1" x2="536" y2="159.8" stroke="#777" stroke-width="1"/>
<line x1="537" y1="170.1" x2="537" y2="160.2" stroke="#555" stroke-width="1"/>
<line x1="541.6" y1="170.1" x2="541.6" y2="162.1" stroke="#aaa" stroke-width="1"/>
<line x1="548.5" y1="170.1" x2="548.5" y2="163.8" stroke="#555" stroke-width="1"/>
<line x1="553.7" y1="170.1" x2="553.7" y2="165.5" stroke="#888" stroke-width="1"/>
<line x1="554.4" y1="170.1" x2="554.4" y2="165.7" stroke="#888" stroke-width="1"/>
<line x1="558.6" y1="170.1" x2="558.6" y2="166.8" stroke="#777" stroke-width="1"/>
<line x1="575.4" y1="170.1" x2="575.4" y2="170.6" stroke="#888" stroke-width="0.6"/>
<line x1="575.9" y1="170.1" x2="575.9" y2="170.7" stroke="#999" stroke-width="0.6"/>
<line x1="584.3" y1="170.1" x2="584.3" y2="170.8" stroke="#999" stroke-width="0.6"/>
<line x1="592.7" y1="170.1" x2="592.7" y2="171.7" stroke="#444" stroke-width="0.8"/>
<line x1="594.5" y1="170.1" x2="594.5" y2="171.5" stroke="#222" stroke-width="1"/>
<line x1="595.6" y1="170.1" x2="595.6" y2="171.7" stroke="#222" stroke-width="1"/>
<line x1="602.7" y1="170.1" x2="602.7" y2="172.8" stroke="#888" stroke-width="1"/>
<line x1="625.4" y1="170.1" x2="625.4" y2="177.9" stroke="#555" stroke-width="0.9"/>
<line x1="627.1" y1="170.1" x2="627.1" y2="178.4" stroke="#777" stroke-width="0.9"/>
<line x1="637.1" y1="170.1" x2="637.1" y2="181.7" stroke="#444" stroke-width="0.9"/>
<line x1="638.8" y1="170.1" x2="638.8" y2="182.1" stroke="#888" stroke-width="0.9"/>
<line x1="640.2" y1="170.1" x2="640.2" y2="182.4" stroke="#888" stroke-width="0.9"/>
<line x1="659.8" y1="170.1" x2="659.8" y2="191.8" stroke="#888" stroke-width="1"/>
<line x1="672.4" y1="170.1" x2="672.4" y2="213.1" stroke="#444" stroke-width="1"/>
</g>
<line x1="491.5" y1="296.2" x2="682.5" y2="296.2" stroke="#000" stroke-width="0.9"/>
<line x1="501.2" y1="292.2" x2="501.2" y2="300.2" stroke="#000" stroke-width="0.8"/>
<line x1="502.1" y1="292.2" x2="502.1" y2="300.2" stroke="#000" stroke-width="0.8"/>
<line x1="504.5" y1="292.2" x2="504.5" y2="300.2" stroke="#000" stroke-width="0.8"/>
<line x1="507.5" y1="292.2" x2="507.5" y2="300.2" stroke="#000" stroke-width="0.8"/>
<line x1="509.4" y1="292.2" x2="509.4" y2="300.2" stroke="#000" stroke-width="0.8"/>
<line x1="517.9" y1="292.2" x2="517.9" y2="300.2" stroke="#000" stroke-width="0.8"/>
<line x1="518.9" y1="292.2" x2="518.9" y2="300.2" stroke="#000" stroke-width="0.8"/>
<line x1="520" y1="292.2" x2="520" y2="300.2" stroke="#000" stroke-width="0.8"/>
<line x1="520.6" y1="292.2" x2="520.6" y2="300.2" stroke="#000" stroke-width="0.8"/>
<line x1="522.6" y1="292.2" x2="522.6" y2="300.2" stroke="#000" stroke-width="0.8"/>
<line x1="525.2" y1="292.2" x2="525.2" y2="300.2" stroke="#000" stroke-width="0.8"/>
<line x1="526.1" y1="292.2" x2="526.1" y2="300.2" stroke="#000" stroke-width="0.8"/>
<line x1="530.1" y1="292.2" x2="530.1" y2="300.2" stroke="#000" stroke-width="0.8"/>
<line x1="534.4" y1="292.2" x2="534.4" y2="300.2" stroke="#000" stroke-width="0.8"/>
<line x1="536" y1="292.2" x2="536" y2="300.2" stroke="#000" stroke-width="0.8"/>
<line x1="537" y1="292.2" x2="537" y2="300.2" stroke="#000" stroke-width="0.8"/>
<line x1="541.6" y1="292.2" x2="541.6" y2="300.2" stroke="#000" stroke-width="0.8"/>
<line x1="548.5" y1="292.2" x2="548.5" y2="300.2" stroke="#000" stroke-width="0.8"/>
<line x1="553.7" y1="292.2" x2="553.7" y2="300.2" stroke="#000" stroke-width="0.8"/>
<line x1="554.4" y1="292.2" x2="554.4" y2="300.2" stroke="#000" stroke-width="0.8"/>
<line x1="558.6" y1="292.2" x2="558.6" y2="300.2" stroke="#000" stroke-width="0.8"/>
<line x1="575.4" y1="292.2" x2="575.4" y2="300.2" stroke="#000" stroke-width="0.8"/>
<line x1="575.9" y1="292.2" x2="575.9" y2="300.2" stroke="#000" stroke-width="0.8"/>
<line x1="584.3" y1="292.2" x2="584.3" y2="300.2" stroke="#000" stroke-width="0.8"/>
<line x1="592.7" y1="292.2" x2="592.7" y2="300.2" stroke="#000" stroke-width="0.8"/>
<line x1="594.5" y1="292.2" x2="594.5" y2="300.2" stroke="#000" stroke-width="0.8"/>
<line x1="595.6" y1="292.2" x2="595.6" y2="300.2" stroke="#000" stroke-width="0.8"/>
<line x1="602.7" y1="292.2" x2="602.7" y2="300.2" stroke="#000" stroke-width="0.8"/>
<line x1="625.4" y1="292.2" x2="625.4" y2="300.2" stroke="#000" stroke-width="0.8"/>
<line x1="627.1" y1="292.2" x2="627.1" y2="300.2" stroke="#000" stroke-width="0.8"/>
<line x1="637.1" y1="292.2" x2="637.1" y2="300.2" stroke="#000" stroke-width="0.8"/>
<line x1="638.8" y1="292.2" x2="638.8" y2="300.2" stroke="#000" stroke-width="0.8"/>
<line x1="640.2" y1="292.2" x2="640.2" y2="300.2" stroke="#000" stroke-width="0.8"/>
<line x1="659.8" y1="292.2" x2="659.8" y2="300.2" stroke="#000" stroke-width="0.8"/>
<line x1="672.4" y1="292.2" x2="672.4" y2="300.2" stroke="#000" stroke-width="0.8"/>
<line x1="537" y1="223.5" x2="537" y2="312.3" stroke="#ff8c8c" stroke-width="0.9" stroke-dasharray="1.3,2.1"/>
<polyline points="500.5,296.2 501.4,296.2 501.7,274.7 503.9,275.5 504.6,266.7 507.2,268.9 507.8,253.6 509,253.6 509.7,247 517.7,254.3 518.5,249.2 519.9,244.1 520.7,240.4 522.1,241.9 522.8,237.5 525,239 526.5,231.7 528.7,233.9 530.6,230.9 534.5,234.6 535.3,232.4 536.4,231.7 537,227.3 541.1,230.2 542.6,229.5 548.4,233.9 549,233 553.5,236.8 554.2,234.6 558.6,238.2 559.3,237.8 585,259.4 593,266.4 596,267.4 602.5,272.6 625.1,291.2 625.9,289.3 627.6,288.6 636.8,295.9 637.6,290.1 639,290.1 640.2,287.9 659.5,304.4 659.7,298.1 672.6,308.3 672.9,295.9" fill="none" stroke="#19fa19" stroke-width="1.4" stroke-linejoin="round"/>
<line x1="500.4" y1="312.3" x2="500.4" y2="313.9" stroke="#7a7a7a" stroke-width="0.7"/>
<text x="500.4" y="319.8" font-size="6.8" text-anchor="middle" font-weight="normal" font-style="normal" fill="#4d4d4d" >0</text>
<line x1="547.3" y1="312.3" x2="547.3" y2="313.9" stroke="#7a7a7a" stroke-width="0.7"/>
<text x="547.3" y="319.8" font-size="6.8" text-anchor="middle" font-weight="normal" font-style="normal" fill="#4d4d4d" >5000</text>
<line x1="594.2" y1="312.3" x2="594.2" y2="313.9" stroke="#7a7a7a" stroke-width="0.7"/>
<text x="594.2" y="319.8" font-size="6.8" text-anchor="middle" font-weight="normal" font-style="normal" fill="#4d4d4d" >10000</text>
<line x1="641.1" y1="312.3" x2="641.1" y2="313.9" stroke="#7a7a7a" stroke-width="0.7"/>
<text x="641.1" y="319.8" font-size="6.8" text-anchor="middle" font-weight="normal" font-style="normal" fill="#4d4d4d" >15000</text>
<text x="581" y="327.9" font-size="8.6" text-anchor="middle" font-weight="bold" font-style="normal" fill="#000" textLength="148.5" lengthAdjust="spacingAndGlyphs">Position in the Ranked List of Genes</text>
<line x1="491.5" y1="127.5" x2="682.5" y2="127.5" stroke="#bdbdbd" stroke-width="1.3"/>
<polyline points="491.5,127.5 491.5,216.8 682.5,216.8 682.5,127.5" fill="none" stroke="#7a7a7a" stroke-width="1"/>
<line x1="491.5" y1="223.5" x2="682.5" y2="223.5" stroke="#bdbdbd" stroke-width="1.3"/>
<polyline points="491.5,223.5 491.5,312.3 682.5,312.3 682.5,223.5" fill="none" stroke="#7a7a7a" stroke-width="1"/>
<text x="8" y="458" font-size="23.5" text-anchor="start" font-weight="bold" font-style="normal" fill="#000" >f</text>
<text x="121" y="460" font-size="9" text-anchor="middle" font-weight="normal" font-style="normal" fill="#1a1a1a" >oxidative phosphorylation</text>
<line x1="60.52" y1="464.4" x2="60.52" y2="548.3" stroke="#f4f4f4" stroke-width="0.6"/>
<line x1="100.97" y1="464.4" x2="100.97" y2="548.3" stroke="#f4f4f4" stroke-width="0.6"/>
<line x1="141.43" y1="464.4" x2="141.43" y2="548.3" stroke="#f4f4f4" stroke-width="0.6"/>
<line x1="181.88" y1="464.4" x2="181.88" y2="548.3" stroke="#f4f4f4" stroke-width="0.6"/>
<line x1="32.5" y1="534.8" x2="210.9" y2="534.8" stroke="#f4f4f4" stroke-width="0.6"/>
<line x1="32.5" y1="511.2" x2="210.9" y2="511.2" stroke="#f4f4f4" stroke-width="0.6"/>
<line x1="32.5" y1="487.6" x2="210.9" y2="487.6" stroke="#f4f4f4" stroke-width="0.6"/>
<line x1="40.3" y1="464.4" x2="40.3" y2="548.3" stroke="#ebebeb" stroke-width="0.8"/>
<line x1="80.75" y1="464.4" x2="80.75" y2="548.3" stroke="#ebebeb" stroke-width="0.8"/>
<line x1="121.2" y1="464.4" x2="121.2" y2="548.3" stroke="#ebebeb" stroke-width="0.8"/>
<line x1="161.65" y1="464.4" x2="161.65" y2="548.3" stroke="#ebebeb" stroke-width="0.8"/>
<line x1="202.1" y1="464.4" x2="202.1" y2="548.3" stroke="#ebebeb" stroke-width="0.8"/>
<line x1="32.5" y1="546.6" x2="210.9" y2="546.6" stroke="#ebebeb" stroke-width="0.8"/>
<line x1="30.9" y1="546.6" x2="32.5" y2="546.6" stroke="#7a7a7a" stroke-width="0.7"/>
<text x="30.3" y="548.76" font-size="6" text-anchor="end" font-weight="normal" font-style="normal" fill="#4d4d4d" >-1.0</text>
<line x1="32.5" y1="523" x2="210.9" y2="523" stroke="#ebebeb" stroke-width="0.8"/>
<line x1="30.9" y1="523" x2="32.5" y2="523" stroke="#7a7a7a" stroke-width="0.7"/>
<text x="30.3" y="525.16" font-size="6" text-anchor="end" font-weight="normal" font-style="normal" fill="#4d4d4d" >-0.5</text>
<line x1="32.5" y1="499.4" x2="210.9" y2="499.4" stroke="#ebebeb" stroke-width="0.8"/>
<line x1="30.9" y1="499.4" x2="32.5" y2="499.4" stroke="#7a7a7a" stroke-width="0.7"/>
<text x="30.3" y="501.56" font-size="6" text-anchor="end" font-weight="normal" font-style="normal" fill="#4d4d4d" >0.0</text>
<line x1="32.5" y1="475.8" x2="210.9" y2="475.8" stroke="#ebebeb" stroke-width="0.8"/>
<line x1="30.9" y1="475.8" x2="32.5" y2="475.8" stroke="#7a7a7a" stroke-width="0.7"/>
<text x="30.3" y="477.96" font-size="6" text-anchor="end" font-weight="normal" font-style="normal" fill="#4d4d4d" >0.5</text>
<text transform="translate(16.7,506.35) rotate(-90)" font-size="5.8" text-anchor="middle" font-weight="normal" fill="#1a1a1a" >Ranked List Metric</text>
<line x1="60.52" y1="553.7" x2="60.52" y2="637.5" stroke="#f4f4f4" stroke-width="0.6"/>
<line x1="100.97" y1="553.7" x2="100.97" y2="637.5" stroke="#f4f4f4" stroke-width="0.6"/>
<line x1="141.43" y1="553.7" x2="141.43" y2="637.5" stroke="#f4f4f4" stroke-width="0.6"/>
<line x1="181.88" y1="553.7" x2="181.88" y2="637.5" stroke="#f4f4f4" stroke-width="0.6"/>
<line x1="32.5" y1="618.95" x2="210.9" y2="618.95" stroke="#f4f4f4" stroke-width="0.6"/>
<line x1="32.5" y1="598.65" x2="210.9" y2="598.65" stroke="#f4f4f4" stroke-width="0.6"/>
<line x1="32.5" y1="578.35" x2="210.9" y2="578.35" stroke="#f4f4f4" stroke-width="0.6"/>
<line x1="32.5" y1="558.05" x2="210.9" y2="558.05" stroke="#f4f4f4" stroke-width="0.6"/>
<line x1="40.3" y1="553.7" x2="40.3" y2="637.5" stroke="#ebebeb" stroke-width="0.8"/>
<line x1="80.75" y1="553.7" x2="80.75" y2="637.5" stroke="#ebebeb" stroke-width="0.8"/>
<line x1="121.2" y1="553.7" x2="121.2" y2="637.5" stroke="#ebebeb" stroke-width="0.8"/>
<line x1="161.65" y1="553.7" x2="161.65" y2="637.5" stroke="#ebebeb" stroke-width="0.8"/>
<line x1="202.1" y1="553.7" x2="202.1" y2="637.5" stroke="#ebebeb" stroke-width="0.8"/>
<line x1="32.5" y1="629.1" x2="210.9" y2="629.1" stroke="#ebebeb" stroke-width="0.8"/>
<line x1="30.9" y1="629.1" x2="32.5" y2="629.1" stroke="#7a7a7a" stroke-width="0.7"/>
<text x="30.3" y="631.26" font-size="6" text-anchor="end" font-weight="normal" font-style="normal" fill="#4d4d4d" >0.0</text>
<line x1="32.5" y1="608.8" x2="210.9" y2="608.8" stroke="#ebebeb" stroke-width="0.8"/>
<line x1="30.9" y1="608.8" x2="32.5" y2="608.8" stroke="#7a7a7a" stroke-width="0.7"/>
<text x="30.3" y="610.96" font-size="6" text-anchor="end" font-weight="normal" font-style="normal" fill="#4d4d4d" >0.1</text>
<line x1="32.5" y1="588.5" x2="210.9" y2="588.5" stroke="#ebebeb" stroke-width="0.8"/>
<line x1="30.9" y1="588.5" x2="32.5" y2="588.5" stroke="#7a7a7a" stroke-width="0.7"/>
<text x="30.3" y="590.66" font-size="6" text-anchor="end" font-weight="normal" font-style="normal" fill="#4d4d4d" >0.2</text>
<line x1="32.5" y1="568.2" x2="210.9" y2="568.2" stroke="#ebebeb" stroke-width="0.8"/>
<line x1="30.9" y1="568.2" x2="32.5" y2="568.2" stroke="#7a7a7a" stroke-width="0.7"/>
<text x="30.3" y="570.36" font-size="6" text-anchor="end" font-weight="normal" font-style="normal" fill="#4d4d4d" >0.3</text>
<text transform="translate(16.6,595.6) rotate(-90)" font-size="5.8" text-anchor="middle" font-weight="normal" fill="#1a1a1a" >Running Enrichment Score</text>
<g>
<polygon points="43.9,499.4 43.9,467.5 44.5,468.1 44.9,469.87 44.9,499.4" fill="#999"/>
<polygon points="44.9,499.4 44.9,469.87 45.2,471.2 45.8,472.32 45.8,499.4" fill="#aaa"/>
<polygon points="47.1,499.4 47.1,474.75 47.5,475.5 47.9,476.1 47.9,499.4" fill="#444"/>
<polygon points="47.9,499.4 47.9,476.1 48.1,476.4 48.9,477.5 48.9,499.4" fill="#bbb"/>
<polygon points="50.1,499.4 50.1,479.15 50.5,479.7 52.7,481.3 53.4,481.9 53.4,499.4" fill="#111"/>
<polygon points="53.4,499.4 53.4,481.9 55.4,483.6 56,484.11 56,499.4" fill="#333"/>
<polygon points="56.7,499.4 56.7,484.69 57.3,485.2 58.4,485.92 58.4,499.4" fill="#bbb"/>
<polygon points="58.6,499.4 58.6,486.05 59.3,486.5 60.2,487.13 60.2,499.4" fill="#111"/>
<polygon points="60.2,499.4 60.2,487.13 61.3,487.9 63.2,488.9 64.6,489.57 64.6,499.4" fill="#777"/>
<polygon points="64.6,499.4 64.6,489.57 65.5,490 66.5,490.39 66.5,499.4" fill="#333"/>
<polygon points="66.5,499.4 66.5,490.39 67.8,490.9 68.5,491.07 68.5,499.4" fill="#999"/>
<polygon points="68.5,499.4 68.5,491.07 69.4,491.3 70.2,491.6 70.2,499.4" fill="#444"/>
<polygon points="73.8,499.4 73.8,492.95 74.2,493.1 74.7,493.35 74.7,499.4" fill="#444"/>
<polygon points="78.1,499.4 78.1,495.05 78.4,495.2 80.3,495.47 80.3,499.4" fill="#777"/>
<polygon points="80.3,499.4 80.3,495.47 84.7,496.1 84.7,499.4" fill="#444"/>
<polygon points="88.2,499.4 88.2,497.89 88.6,498.1 89,498.14 89,499.4" fill="#333"/>
<polygon points="92.5,499.4 92.5,498.47 92.8,498.5 93.3,498.57 93.3,499.4" fill="#555"/>
<polygon points="94.2,499.4 94.2,498.71 94.8,498.8 95,498.82 95,499.4" fill="#777"/>
<polygon points="96.2,499.4 96.2,498.91 96.9,498.96 96.9,499.4" fill="#777"/>
<polygon points="101.2,499.4 101.2,499.4 102.8,499.68 102.8,499.4" fill="#666"/>
<polygon points="105.3,499.4 105.3,500.1 107.9,500.21 107.9,499.4" fill="#555"/>
<polygon points="108.8,499.4 108.8,500.25 109.9,500.3 110,500.32 110,499.4" fill="#777"/>
<polygon points="113.6,499.4 113.6,501.2 114.4,501.26 114.4,499.4" fill="#777"/>
<polygon points="115.5,499.4 115.5,501.34 117.8,501.5 117.8,499.4" fill="#666"/>
<polygon points="122.3,499.4 122.3,503.12 122.8,503.3 123.2,503.46 123.2,499.4" fill="#777"/>
<polygon points="126,499.4 126,504.6 127,505 127.4,505.08 127.4,499.4" fill="#333"/>
<polygon points="129.4,499.4 129.4,505.45 130.7,505.7 130.7,499.4" fill="#777"/>
<polygon points="133.4,499.4 133.4,506.39 135.8,507 135.8,499.4" fill="#555"/>
<polygon points="138.1,499.4 138.1,507.73 139.9,508.3 139.9,499.4" fill="#111"/>
<polygon points="141.8,499.4 141.8,509.46 142.2,509.7 142.6,509.82 142.6,499.4" fill="#444"/>
<polygon points="146.2,499.4 146.2,510.89 148.9,511.7 148.9,499.4" fill="#aaa"/>
<polygon points="150.2,499.4 150.2,512.39 150.6,512.6 151,512.8 151,499.4" fill="#777"/>
<polygon points="153.8,499.4 153.8,514.2 154.2,514.4 154.6,514.49 154.6,499.4" fill="#888"/>
<polygon points="156.9,499.4 156.9,515.01 157.3,515.1 157.7,515.29 157.7,499.4" fill="#777"/>
<polygon points="161.2,499.4 161.2,516.91 161.6,517.1 162,517.33 162,499.4" fill="#555"/>
<polygon points="162.8,499.4 162.8,517.77 163.2,518 163.6,518.25 163.6,499.4" fill="#555"/>
<polygon points="167,499.4 167,520.4 170.8,521.8 170.8,499.4" fill="#999"/>
<polygon points="174,499.4 174,524.2 174.4,524.5 174.8,524.88 174.8,499.4" fill="#555"/>
<polygon points="183.5,499.4 183.5,533.04 184.1,533.6 184.7,534.43 184.7,499.4" fill="#555"/>
<polygon points="191.5,499.4 191.5,543.77 192.1,544.6 192.7,544.6 192.7,499.4" fill="#aaa"/>
</g>
<line x1="32.5" y1="629.1" x2="210.9" y2="629.1" stroke="#3a3a3a" stroke-width="1.0"/>
<rect x="43.9" y="625.1" width="1" height="8" fill="#5b5b5b"/>
<rect x="44.9" y="625.1" width="0.9" height="8" fill="#666666"/>
<rect x="47.1" y="625.1" width="0.8" height="8" fill="#282828"/>
<rect x="47.9" y="625.1" width="1" height="8" fill="#707070"/>
<line x1="50.92" y1="625.1" x2="50.92" y2="633.1" stroke="#000" stroke-width="1.59"/>
<line x1="52.58" y1="625.1" x2="52.58" y2="633.1" stroke="#000" stroke-width="1.59"/>
<line x1="54.05" y1="625.1" x2="54.05" y2="633.1" stroke="#000" stroke-width="1.15"/>
<line x1="55.35" y1="625.1" x2="55.35" y2="633.1" stroke="#000" stroke-width="1.15"/>
<rect x="56.7" y="625.1" width="1.7" height="8" fill="#707070"/>
<rect x="58.6" y="625.1" width="1.6" height="8" fill="#0a0a0a"/>
<line x1="60.93" y1="625.1" x2="60.93" y2="633.1" stroke="#000" stroke-width="1.06"/>
<line x1="62.4" y1="625.1" x2="62.4" y2="633.1" stroke="#000" stroke-width="1.06"/>
<line x1="63.87" y1="625.1" x2="63.87" y2="633.1" stroke="#000" stroke-width="1.06"/>
<line x1="65.55" y1="625.1" x2="65.55" y2="633.1" stroke="#000" stroke-width="1.68"/>
<line x1="67.5" y1="625.1" x2="67.5" y2="633.1" stroke="#000" stroke-width="1.29"/>
<rect x="68.5" y="625.1" width="1.7" height="8" fill="#282828"/>
<rect x="73.8" y="625.1" width="0.9" height="8" fill="#282828"/>
<line x1="79.2" y1="625.1" x2="79.2" y2="633.1" stroke="#000" stroke-width="1.59"/>
<line x1="81.03" y1="625.1" x2="81.03" y2="633.1" stroke="#000" stroke-width="1.24"/>
<line x1="82.5" y1="625.1" x2="82.5" y2="633.1" stroke="#000" stroke-width="1.24"/>
<line x1="83.97" y1="625.1" x2="83.97" y2="633.1" stroke="#000" stroke-width="1.24"/>
<rect x="88.2" y="625.1" width="0.8" height="8" fill="#1e1e1e"/>
<rect x="92.5" y="625.1" width="0.8" height="8" fill="#333333"/>
<rect x="94.2" y="625.1" width="0.8" height="8" fill="#474747"/>
<rect x="96.2" y="625.1" width="0.7" height="8" fill="#474747"/>
<rect x="101.2" y="625.1" width="1.6" height="8" fill="#3d3d3d"/>
<line x1="105.95" y1="625.1" x2="105.95" y2="633.1" stroke="#000" stroke-width="1.04"/>
<line x1="107.25" y1="625.1" x2="107.25" y2="633.1" stroke="#000" stroke-width="1.04"/>
<rect x="108.8" y="625.1" width="1.2" height="8" fill="#474747"/>
<rect x="113.6" y="625.1" width="0.8" height="8" fill="#474747"/>
<line x1="116.08" y1="625.1" x2="116.08" y2="633.1" stroke="#000" stroke-width="0.87"/>
<line x1="117.22" y1="625.1" x2="117.22" y2="633.1" stroke="#000" stroke-width="0.87"/>
<rect x="122.3" y="625.1" width="0.9" height="8" fill="#474747"/>
<rect x="126" y="625.1" width="1.4" height="8" fill="#1e1e1e"/>
<rect x="129.4" y="625.1" width="1.3" height="8" fill="#474747"/>
<line x1="134" y1="625.1" x2="134" y2="633.1" stroke="#000" stroke-width="0.96"/>
<line x1="135.2" y1="625.1" x2="135.2" y2="633.1" stroke="#000" stroke-width="0.96"/>
<line x1="139" y1="625.1" x2="139" y2="633.1" stroke="#000" stroke-width="1.73"/>
<rect x="141.8" y="625.1" width="0.8" height="8" fill="#282828"/>
<line x1="146.88" y1="625.1" x2="146.88" y2="633.1" stroke="#000" stroke-width="0.81"/>
<line x1="148.22" y1="625.1" x2="148.22" y2="633.1" stroke="#000" stroke-width="0.81"/>
<rect x="150.2" y="625.1" width="0.8" height="8" fill="#474747"/>
<rect x="153.8" y="625.1" width="0.8" height="8" fill="#515151"/>
<rect x="156.9" y="625.1" width="0.8" height="8" fill="#474747"/>
<rect x="161.2" y="625.1" width="0.8" height="8" fill="#333333"/>
<rect x="162.8" y="625.1" width="0.8" height="8" fill="#333333"/>
<line x1="167.63" y1="625.1" x2="167.63" y2="633.1" stroke="#000" stroke-width="0.81"/>
<line x1="168.9" y1="625.1" x2="168.9" y2="633.1" stroke="#000" stroke-width="0.81"/>
<line x1="170.17" y1="625.1" x2="170.17" y2="633.1" stroke="#000" stroke-width="0.81"/>
<rect x="174" y="625.1" width="0.8" height="8" fill="#333333"/>
<rect x="183.5" y="625.1" width="1.2" height="8" fill="#333333"/>
<rect x="191.5" y="625.1" width="1.2" height="8" fill="#666666"/>
<line x1="69.4" y1="553.7" x2="69.4" y2="637.5" stroke="#ff8c8c" stroke-width="0.9" stroke-dasharray="1.3,2.1"/>
<polyline points="40.3,629.1 43.9,633.4 44.9,621 46.6,621.6 48.1,611.8 49.7,612.4 51.8,605.2 54.1,594.7 55.4,582.8 56.7,581.3 58.4,581.5 59.7,572.3 61.3,569.1 63.9,565.8 66.3,559.9 69.4,558.1 73.1,562.5 75.1,563.1 79.7,567.3 83.6,567.3 88.9,573.7 103.3,592 115.1,603.9 117.1,604.1 120,607.7 122.7,610.4 126,613.1 127.4,612.5 130.1,614.5 133.4,617.2 135.4,615.8 138.1,616.9 139.5,609.1 142.2,611.8 146.2,615.8 150.2,614.5 153.6,618.5 154.6,613.8 157.3,615.8 161,619.8 163.6,616.5 167,621.2 171,613.8 173,615.8 174.4,613.1 183.1,625.2 184.2,614.2 191.2,623.2 192.1,615.5 202.2,628.6" fill="none" stroke="#19fa19" stroke-width="1.4" stroke-linejoin="round"/>
<line x1="40.3" y1="637.5" x2="40.3" y2="639.1" stroke="#7a7a7a" stroke-width="0.7"/>
<text x="40.3" y="644" font-size="6" text-anchor="middle" font-weight="normal" font-style="normal" fill="#4d4d4d" >0</text>
<line x1="80.75" y1="637.5" x2="80.75" y2="639.1" stroke="#7a7a7a" stroke-width="0.7"/>
<text x="80.75" y="644" font-size="6" text-anchor="middle" font-weight="normal" font-style="normal" fill="#4d4d4d" >5000</text>
<line x1="121.2" y1="637.5" x2="121.2" y2="639.1" stroke="#7a7a7a" stroke-width="0.7"/>
<text x="121.2" y="644" font-size="6" text-anchor="middle" font-weight="normal" font-style="normal" fill="#4d4d4d" >10000</text>
<line x1="161.65" y1="637.5" x2="161.65" y2="639.1" stroke="#7a7a7a" stroke-width="0.7"/>
<text x="161.65" y="644" font-size="6" text-anchor="middle" font-weight="normal" font-style="normal" fill="#4d4d4d" >15000</text>
<line x1="202.1" y1="637.5" x2="202.1" y2="639.1" stroke="#7a7a7a" stroke-width="0.7"/>
<text x="202.1" y="644" font-size="6" text-anchor="middle" font-weight="normal" font-style="normal" fill="#4d4d4d" >20000</text>
<text x="121.4" y="651" font-size="5.75" text-anchor="middle" font-weight="normal" font-style="normal" fill="#1a1a1a" >Position in the Ranked List of Genes</text>
<line x1="32.5" y1="464.4" x2="210.9" y2="464.4" stroke="#bdbdbd" stroke-width="1.3"/>
<polyline points="32.5,464.4 32.5,548.3 210.9,548.3 210.9,464.4" fill="none" stroke="#7a7a7a" stroke-width="1"/>
<line x1="32.5" y1="553.7" x2="210.9" y2="553.7" stroke="#bdbdbd" stroke-width="1.3"/>
<polyline points="32.5,553.7 32.5,637.5 210.9,637.5 210.9,553.7" fill="none" stroke="#7a7a7a" stroke-width="1"/>
<text x="219.5" y="458" font-size="23.5" text-anchor="start" font-weight="bold" font-style="normal" fill="#000" >g</text>
<text x="243.6" y="460.2" font-size="9" text-anchor="start" font-weight="normal" font-style="normal" fill="#1a1a1a" >Mitochondria respiratory chain complex assemb</text>
<line x1="282.43" y1="464.5" x2="282.43" y2="547.5" stroke="#f4f4f4" stroke-width="0.6"/>
<line x1="321.88" y1="464.5" x2="321.88" y2="547.5" stroke="#f4f4f4" stroke-width="0.6"/>
<line x1="361.32" y1="464.5" x2="361.32" y2="547.5" stroke="#f4f4f4" stroke-width="0.6"/>
<line x1="400.77" y1="464.5" x2="400.77" y2="547.5" stroke="#f4f4f4" stroke-width="0.6"/>
<line x1="255.5" y1="536.35" x2="428.5" y2="536.35" stroke="#f4f4f4" stroke-width="0.6"/>
<line x1="255.5" y1="520.05" x2="428.5" y2="520.05" stroke="#f4f4f4" stroke-width="0.6"/>
<line x1="255.5" y1="503.75" x2="428.5" y2="503.75" stroke="#f4f4f4" stroke-width="0.6"/>
<line x1="255.5" y1="487.45" x2="428.5" y2="487.45" stroke="#f4f4f4" stroke-width="0.6"/>
<line x1="255.5" y1="471.15" x2="428.5" y2="471.15" stroke="#f4f4f4" stroke-width="0.6"/>
<line x1="262.7" y1="464.5" x2="262.7" y2="547.5" stroke="#ebebeb" stroke-width="0.8"/>
<line x1="302.15" y1="464.5" x2="302.15" y2="547.5" stroke="#ebebeb" stroke-width="0.8"/>
<line x1="341.6" y1="464.5" x2="341.6" y2="547.5" stroke="#ebebeb" stroke-width="0.8"/>
<line x1="381.05" y1="464.5" x2="381.05" y2="547.5" stroke="#ebebeb" stroke-width="0.8"/>
<line x1="420.5" y1="464.5" x2="420.5" y2="547.5" stroke="#ebebeb" stroke-width="0.8"/>
<line x1="255.5" y1="544.5" x2="428.5" y2="544.5" stroke="#ebebeb" stroke-width="0.8"/>
<line x1="253.9" y1="544.5" x2="255.5" y2="544.5" stroke="#7a7a7a" stroke-width="0.7"/>
<text x="253.3" y="546.66" font-size="6" text-anchor="end" font-weight="normal" font-style="normal" fill="#4d4d4d" >-0.50</text>
<line x1="255.5" y1="528.2" x2="428.5" y2="528.2" stroke="#ebebeb" stroke-width="0.8"/>
<line x1="253.9" y1="528.2" x2="255.5" y2="528.2" stroke="#7a7a7a" stroke-width="0.7"/>
<text x="253.3" y="530.36" font-size="6" text-anchor="end" font-weight="normal" font-style="normal" fill="#4d4d4d" >-0.25</text>
<line x1="255.5" y1="511.9" x2="428.5" y2="511.9" stroke="#ebebeb" stroke-width="0.8"/>
<line x1="253.9" y1="511.9" x2="255.5" y2="511.9" stroke="#7a7a7a" stroke-width="0.7"/>
<text x="253.3" y="514.06" font-size="6" text-anchor="end" font-weight="normal" font-style="normal" fill="#4d4d4d" >0.00</text>
<line x1="255.5" y1="495.6" x2="428.5" y2="495.6" stroke="#ebebeb" stroke-width="0.8"/>
<line x1="253.9" y1="495.6" x2="255.5" y2="495.6" stroke="#7a7a7a" stroke-width="0.7"/>
<text x="253.3" y="497.76" font-size="6" text-anchor="end" font-weight="normal" font-style="normal" fill="#4d4d4d" >0.25</text>
<line x1="255.5" y1="479.3" x2="428.5" y2="479.3" stroke="#ebebeb" stroke-width="0.8"/>
<line x1="253.9" y1="479.3" x2="255.5" y2="479.3" stroke="#7a7a7a" stroke-width="0.7"/>
<text x="253.3" y="481.46" font-size="6" text-anchor="end" font-weight="normal" font-style="normal" fill="#4d4d4d" >0.50</text>
<text transform="translate(236.2,506) rotate(-90)" font-size="5.8" text-anchor="middle" font-weight="normal" fill="#1a1a1a" >Ranked List Metric</text>
<line x1="282.43" y1="553.5" x2="282.43" y2="636.5" stroke="#f4f4f4" stroke-width="0.6"/>
<line x1="321.88" y1="553.5" x2="321.88" y2="636.5" stroke="#f4f4f4" stroke-width="0.6"/>
<line x1="361.32" y1="553.5" x2="361.32" y2="636.5" stroke="#f4f4f4" stroke-width="0.6"/>
<line x1="400.77" y1="553.5" x2="400.77" y2="636.5" stroke="#f4f4f4" stroke-width="0.6"/>
<line x1="255.5" y1="619.45" x2="428.5" y2="619.45" stroke="#f4f4f4" stroke-width="0.6"/>
<line x1="255.5" y1="601.35" x2="428.5" y2="601.35" stroke="#f4f4f4" stroke-width="0.6"/>
<line x1="255.5" y1="583.25" x2="428.5" y2="583.25" stroke="#f4f4f4" stroke-width="0.6"/>
<line x1="255.5" y1="565.15" x2="428.5" y2="565.15" stroke="#f4f4f4" stroke-width="0.6"/>
<line x1="262.7" y1="553.5" x2="262.7" y2="636.5" stroke="#ebebeb" stroke-width="0.8"/>
<line x1="302.15" y1="553.5" x2="302.15" y2="636.5" stroke="#ebebeb" stroke-width="0.8"/>
<line x1="341.6" y1="553.5" x2="341.6" y2="636.5" stroke="#ebebeb" stroke-width="0.8"/>
<line x1="381.05" y1="553.5" x2="381.05" y2="636.5" stroke="#ebebeb" stroke-width="0.8"/>
<line x1="420.5" y1="553.5" x2="420.5" y2="636.5" stroke="#ebebeb" stroke-width="0.8"/>
<line x1="255.5" y1="628.5" x2="428.5" y2="628.5" stroke="#ebebeb" stroke-width="0.8"/>
<line x1="253.9" y1="628.5" x2="255.5" y2="628.5" stroke="#7a7a7a" stroke-width="0.7"/>
<text x="253.3" y="630.66" font-size="6" text-anchor="end" font-weight="normal" font-style="normal" fill="#4d4d4d" >0.0</text>
<line x1="255.5" y1="610.4" x2="428.5" y2="610.4" stroke="#ebebeb" stroke-width="0.8"/>
<line x1="253.9" y1="610.4" x2="255.5" y2="610.4" stroke="#7a7a7a" stroke-width="0.7"/>
<text x="253.3" y="612.56" font-size="6" text-anchor="end" font-weight="normal" font-style="normal" fill="#4d4d4d" >0.1</text>
<line x1="255.5" y1="592.3" x2="428.5" y2="592.3" stroke="#ebebeb" stroke-width="0.8"/>
<line x1="253.9" y1="592.3" x2="255.5" y2="592.3" stroke="#7a7a7a" stroke-width="0.7"/>
<text x="253.3" y="594.46" font-size="6" text-anchor="end" font-weight="normal" font-style="normal" fill="#4d4d4d" >0.2</text>
<line x1="255.5" y1="574.2" x2="428.5" y2="574.2" stroke="#ebebeb" stroke-width="0.8"/>
<line x1="253.9" y1="574.2" x2="255.5" y2="574.2" stroke="#7a7a7a" stroke-width="0.7"/>
<text x="253.3" y="576.36" font-size="6" text-anchor="end" font-weight="normal" font-style="normal" fill="#4d4d4d" >0.3</text>
<line x1="255.5" y1="556.1" x2="428.5" y2="556.1" stroke="#ebebeb" stroke-width="0.8"/>
<line x1="253.9" y1="556.1" x2="255.5" y2="556.1" stroke="#7a7a7a" stroke-width="0.7"/>
<text x="253.3" y="558.26" font-size="6" text-anchor="end" font-weight="normal" font-style="normal" fill="#4d4d4d" >0.4</text>
<text transform="translate(236,595) rotate(-90)" font-size="5.8" text-anchor="middle" font-weight="normal" fill="#1a1a1a" >Running Enrichment Score</text>
<g>
<polygon points="266,511.9 266,467 266.2,467.5 266.8,471.2 267.9,474.5 269.2,478.8 269.7,479.75 269.7,511.9" fill="#888"/>
<polygon points="271,511.9 271,482.24 271.4,483 272.7,484.75 272.7,511.9" fill="#aaa"/>
<polygon points="273.4,511.9 273.4,485.7 274.7,487.39 274.7,511.9" fill="#777"/>
<polygon points="274.7,511.9 274.7,487.39 275.4,488.3 276.7,490.08 276.7,511.9" fill="#111"/>
<polygon points="277.3,511.9 277.3,490.9 279.3,492.5 280,493.09 280,511.9" fill="#ccc"/>
<polygon points="281,511.9 281,493.94 281.3,494.2 283.2,496.4 283.2,511.9" fill="#555"/>
<polygon points="283.2,511.9 283.2,496.4 285.9,497.7 287.2,498.75 287.2,511.9" fill="#222"/>
<polygon points="287.2,511.9 287.2,498.75 288.5,499.8 289.2,500.18 289.2,511.9" fill="#666"/>
<polygon points="289.2,511.9 289.2,500.18 291.1,501.2 291.8,501.54 291.8,511.9" fill="#444"/>
<polygon points="291.8,511.9 291.8,501.54 293.8,502.5 293.8,511.9" fill="#888"/>
<polygon points="297,511.9 297,504.15 297.3,504.3 298.1,504.87 298.1,511.9" fill="#aaa"/>
<polygon points="299.4,511.9 299.4,505.79 299.7,506 300.3,506.21 300.3,511.9" fill="#555"/>
<polygon points="301,511.9 301,506.45 302.3,506.9 303,507.13 303,511.9" fill="#222"/>
<polygon points="303.4,511.9 303.4,507.27 305.6,508 305.6,511.9" fill="#888"/>
<polygon points="309.1,511.9 309.1,509.44 309.5,509.6 312.8,511.3 312.8,511.9" fill="#333"/>
<polygon points="315.8,511.9 315.8,511.82 316.4,511.93 316.4,511.9" fill="#999"/>
<polygon points="322.4,511.9 322.4,512.19 322.7,512.2 323,512.28 323,511.9" fill="#999"/>
<polygon points="326,511.9 326,513.05 326.6,513.2 328,513.63 328,511.9" fill="#444"/>
<polygon points="329.9,511.9 329.9,514.21 330.2,514.3 330.9,514.51 330.9,511.9" fill="#999"/>
<polygon points="333.8,511.9 333.8,515.39 334.5,515.6 335.1,515.81 335.1,511.9" fill="#777"/>
<polygon points="336.5,511.9 336.5,516.29 337.1,516.5 339.1,516.85 339.1,511.9" fill="#999"/>
<polygon points="340.2,511.9 340.2,517.04 341.1,517.2 341.1,511.9" fill="#888"/>
<polygon points="344,511.9 344,518.38 344.3,518.5 345.3,518.5 345.3,511.9" fill="#555"/>
<polygon points="345.3,511.9 345.3,518.5 351.6,521.8 351.6,511.9" fill="#777"/>
<polygon points="353.8,511.9 353.8,522.53 355.5,523.1 355.5,511.9" fill="#111"/>
<polygon points="357.1,511.9 357.1,524.4 361,525.7 361,511.9" fill="#888"/>
<polygon points="362.1,511.9 362.1,526.2 363,526.6 363,511.9" fill="#444"/>
<polygon points="367.9,511.9 367.9,529.5 369.6,529.9 369.6,511.9" fill="#555"/>
<polygon points="370.9,511.9 370.9,531 373.1,531.8 373.1,511.9" fill="#444"/>
<polygon points="375.2,511.9 375.2,533.38 375.5,533.6 375.9,533.86 375.9,511.9" fill="#444"/>
<polygon points="385.8,511.9 385.8,540.34 386.2,540.6 386.6,540.91 386.6,511.9" fill="#555"/>
<polygon points="389.7,511.9 389.7,543.31 390.2,543.7 390.7,543.7 390.7,511.9" fill="#ccc"/>
</g>
<line x1="255.5" y1="628.5" x2="428.5" y2="628.5" stroke="#3a3a3a" stroke-width="1.0"/>
<line x1="266.93" y1="624.5" x2="266.93" y2="632.5" stroke="#000" stroke-width="1.26"/>
<line x1="268.77" y1="624.5" x2="268.77" y2="632.5" stroke="#000" stroke-width="1.26"/>
<rect x="271" y="624.5" width="1.7" height="8" fill="#666666"/>
<rect x="273.4" y="624.5" width="1.3" height="8" fill="#474747"/>
<line x1="275.7" y1="624.5" x2="275.7" y2="632.5" stroke="#000" stroke-width="1.92"/>
<line x1="277.98" y1="624.5" x2="277.98" y2="632.5" stroke="#000" stroke-width="0.7"/>
<line x1="279.32" y1="624.5" x2="279.32" y2="632.5" stroke="#000" stroke-width="0.7"/>
<line x1="282.1" y1="624.5" x2="282.1" y2="632.5" stroke="#000" stroke-width="1.76"/>
<line x1="283.87" y1="624.5" x2="283.87" y2="632.5" stroke="#000" stroke-width="1.23"/>
<line x1="285.2" y1="624.5" x2="285.2" y2="632.5" stroke="#000" stroke-width="1.23"/>
<line x1="286.53" y1="624.5" x2="286.53" y2="632.5" stroke="#000" stroke-width="1.23"/>
<line x1="288.2" y1="624.5" x2="288.2" y2="632.5" stroke="#000" stroke-width="1.52"/>
<line x1="289.85" y1="624.5" x2="289.85" y2="632.5" stroke="#000" stroke-width="1.1"/>
<line x1="291.15" y1="624.5" x2="291.15" y2="632.5" stroke="#000" stroke-width="1.1"/>
<line x1="292.8" y1="624.5" x2="292.8" y2="632.5" stroke="#000" stroke-width="1.36"/>
<rect x="297" y="624.5" width="1.1" height="8" fill="#666666"/>
<rect x="299.4" y="624.5" width="0.9" height="8" fill="#333333"/>
<line x1="302" y1="624.5" x2="302" y2="632.5" stroke="#000" stroke-width="1.84"/>
<line x1="304.5" y1="624.5" x2="304.5" y2="632.5" stroke="#000" stroke-width="1.5"/>
<line x1="310.03" y1="624.5" x2="310.03" y2="632.5" stroke="#000" stroke-width="1.63"/>
<line x1="311.88" y1="624.5" x2="311.88" y2="632.5" stroke="#000" stroke-width="1.63"/>
<rect x="315.8" y="624.5" width="0.6" height="8" fill="#5b5b5b"/>
<rect x="322.4" y="624.5" width="0.6" height="8" fill="#5b5b5b"/>
<line x1="327" y1="624.5" x2="327" y2="632.5" stroke="#000" stroke-width="1.69"/>
<rect x="329.9" y="624.5" width="1" height="8" fill="#5b5b5b"/>
<rect x="333.8" y="624.5" width="1.3" height="8" fill="#474747"/>
<line x1="337.15" y1="624.5" x2="337.15" y2="632.5" stroke="#000" stroke-width="0.84"/>
<line x1="338.45" y1="624.5" x2="338.45" y2="632.5" stroke="#000" stroke-width="0.84"/>
<rect x="340.2" y="624.5" width="0.9" height="8" fill="#515151"/>
<rect x="344" y="624.5" width="1.3" height="8" fill="#333333"/>
<line x1="346.09" y1="624.5" x2="346.09" y2="632.5" stroke="#000" stroke-width="1.14"/>
<line x1="347.66" y1="624.5" x2="347.66" y2="632.5" stroke="#000" stroke-width="1.14"/>
<line x1="349.24" y1="624.5" x2="349.24" y2="632.5" stroke="#000" stroke-width="1.14"/>
<line x1="350.81" y1="624.5" x2="350.81" y2="632.5" stroke="#000" stroke-width="1.14"/>
<rect x="353.8" y="624.5" width="1.7" height="8" fill="#0a0a0a"/>
<line x1="357.75" y1="624.5" x2="357.75" y2="632.5" stroke="#000" stroke-width="0.89"/>
<line x1="359.05" y1="624.5" x2="359.05" y2="632.5" stroke="#000" stroke-width="0.89"/>
<line x1="360.35" y1="624.5" x2="360.35" y2="632.5" stroke="#000" stroke-width="0.89"/>
<rect x="362.1" y="624.5" width="0.9" height="8" fill="#282828"/>
<rect x="367.9" y="624.5" width="1.7" height="8" fill="#333333"/>
<line x1="372" y1="624.5" x2="372" y2="632.5" stroke="#000" stroke-width="1.85"/>
<rect x="375.2" y="624.5" width="0.7" height="8" fill="#282828"/>
<rect x="385.8" y="624.5" width="0.8" height="8" fill="#333333"/>
<rect x="389.7" y="624.5" width="1" height="8" fill="#7a7a7a"/>
<line x1="293.1" y1="553.5" x2="293.1" y2="636.5" stroke="#ff8c8c" stroke-width="0.9" stroke-dasharray="1.3,2.1"/>
<polyline points="262.9,628.6 266.2,632.5 267.1,624.9 268.1,619.6 269.5,611.1 270.8,612.4 272.7,607.8 274.1,605.8 275,603.2 276.7,583.5 278.4,581.5 280,579.6 281.3,581.3 283.2,575.6 286.5,567.7 288.9,562.5 291.1,558.5 293.1,557.2 295.7,560.2 299.7,562.5 301.6,561.8 304.3,559.5 305.6,560.2 309.5,565.1 312.8,567.1 325.3,580.9 335.1,590.7 340.2,594.5 345.9,599.3 348.5,598 351.8,595.3 353.8,596.6 355.5,593.4 358.4,595.3 361,590.5 363,590.7 367.9,596.2 369.6,593.4 371.3,593.4 372.6,587.4 374.4,588.1 375.7,585.7 386.2,598 387.3,594 389.3,596.6 390.2,592.7 420.4,628.4" fill="none" stroke="#19fa19" stroke-width="1.4" stroke-linejoin="round"/>
<line x1="262.7" y1="636.5" x2="262.7" y2="638.1" stroke="#7a7a7a" stroke-width="0.7"/>
<text x="262.7" y="643.1" font-size="6" text-anchor="middle" font-weight="normal" font-style="normal" fill="#4d4d4d" >0</text>
<line x1="302.15" y1="636.5" x2="302.15" y2="638.1" stroke="#7a7a7a" stroke-width="0.7"/>
<text x="302.15" y="643.1" font-size="6" text-anchor="middle" font-weight="normal" font-style="normal" fill="#4d4d4d" >5000</text>
<line x1="341.6" y1="636.5" x2="341.6" y2="638.1" stroke="#7a7a7a" stroke-width="0.7"/>
<text x="341.6" y="643.1" font-size="6" text-anchor="middle" font-weight="normal" font-style="normal" fill="#4d4d4d" >10000</text>
<line x1="381.05" y1="636.5" x2="381.05" y2="638.1" stroke="#7a7a7a" stroke-width="0.7"/>
<text x="381.05" y="643.1" font-size="6" text-anchor="middle" font-weight="normal" font-style="normal" fill="#4d4d4d" >15000</text>
<line x1="420.5" y1="636.5" x2="420.5" y2="638.1" stroke="#7a7a7a" stroke-width="0.7"/>
<text x="420.5" y="643.1" font-size="6" text-anchor="middle" font-weight="normal" font-style="normal" fill="#4d4d4d" >20000</text>
<text x="342.5" y="648.8" font-size="5.75" text-anchor="middle" font-weight="normal" font-style="normal" fill="#1a1a1a" >Position in the Ranked List of Genes</text>
<line x1="255.5" y1="464.5" x2="428.5" y2="464.5" stroke="#bdbdbd" stroke-width="1.3"/>
<polyline points="255.5,464.5 255.5,547.5 428.5,547.5 428.5,464.5" fill="none" stroke="#7a7a7a" stroke-width="1"/>
<line x1="255.5" y1="553.5" x2="428.5" y2="553.5" stroke="#bdbdbd" stroke-width="1.3"/>
<polyline points="255.5,553.5 255.5,636.5 428.5,636.5 428.5,553.5" fill="none" stroke="#7a7a7a" stroke-width="1"/>
<text x="443.8" y="458" font-size="23.5" text-anchor="start" font-weight="bold" font-style="normal" fill="#000" >h</text>
<text x="475.4" y="460.5" font-size="9" text-anchor="start" font-weight="normal" font-style="normal" fill="#1a1a1a" >ATP synthesis coupled Electron transport</text>
<line x1="496.9" y1="465.5" x2="496.9" y2="549.5" stroke="#f4f4f4" stroke-width="0.6"/>
<line x1="537.7" y1="465.5" x2="537.7" y2="549.5" stroke="#f4f4f4" stroke-width="0.6"/>
<line x1="578.5" y1="465.5" x2="578.5" y2="549.5" stroke="#f4f4f4" stroke-width="0.6"/>
<line x1="619.3" y1="465.5" x2="619.3" y2="549.5" stroke="#f4f4f4" stroke-width="0.6"/>
<line x1="468.5" y1="541.25" x2="648.5" y2="541.25" stroke="#f4f4f4" stroke-width="0.6"/>
<line x1="468.5" y1="523.55" x2="648.5" y2="523.55" stroke="#f4f4f4" stroke-width="0.6"/>
<line x1="468.5" y1="505.85" x2="648.5" y2="505.85" stroke="#f4f4f4" stroke-width="0.6"/>
<line x1="468.5" y1="488.15" x2="648.5" y2="488.15" stroke="#f4f4f4" stroke-width="0.6"/>
<line x1="468.5" y1="470.45" x2="648.5" y2="470.45" stroke="#f4f4f4" stroke-width="0.6"/>
<line x1="476.5" y1="465.5" x2="476.5" y2="549.5" stroke="#ebebeb" stroke-width="0.8"/>
<line x1="517.3" y1="465.5" x2="517.3" y2="549.5" stroke="#ebebeb" stroke-width="0.8"/>
<line x1="558.1" y1="465.5" x2="558.1" y2="549.5" stroke="#ebebeb" stroke-width="0.8"/>
<line x1="598.9" y1="465.5" x2="598.9" y2="549.5" stroke="#ebebeb" stroke-width="0.8"/>
<line x1="639.7" y1="465.5" x2="639.7" y2="549.5" stroke="#ebebeb" stroke-width="0.8"/>
<line x1="468.5" y1="550.1" x2="648.5" y2="550.1" stroke="#ebebeb" stroke-width="0.8"/>
<line x1="466.9" y1="550.1" x2="468.5" y2="550.1" stroke="#7a7a7a" stroke-width="0.7"/>
<text x="466.3" y="552.26" font-size="6" text-anchor="end" font-weight="normal" font-style="normal" fill="#4d4d4d" >-1.5</text>
<line x1="468.5" y1="532.4" x2="648.5" y2="532.4" stroke="#ebebeb" stroke-width="0.8"/>
<line x1="466.9" y1="532.4" x2="468.5" y2="532.4" stroke="#7a7a7a" stroke-width="0.7"/>
<text x="466.3" y="534.56" font-size="6" text-anchor="end" font-weight="normal" font-style="normal" fill="#4d4d4d" >-1.0</text>
<line x1="468.5" y1="514.7" x2="648.5" y2="514.7" stroke="#ebebeb" stroke-width="0.8"/>
<line x1="466.9" y1="514.7" x2="468.5" y2="514.7" stroke="#7a7a7a" stroke-width="0.7"/>
<text x="466.3" y="516.86" font-size="6" text-anchor="end" font-weight="normal" font-style="normal" fill="#4d4d4d" >-0.5</text>
<line x1="468.5" y1="497" x2="648.5" y2="497" stroke="#ebebeb" stroke-width="0.8"/>
<line x1="466.9" y1="497" x2="468.5" y2="497" stroke="#7a7a7a" stroke-width="0.7"/>
<text x="466.3" y="499.16" font-size="6" text-anchor="end" font-weight="normal" font-style="normal" fill="#4d4d4d" >0.0</text>
<line x1="468.5" y1="479.3" x2="648.5" y2="479.3" stroke="#ebebeb" stroke-width="0.8"/>
<line x1="466.9" y1="479.3" x2="468.5" y2="479.3" stroke="#7a7a7a" stroke-width="0.7"/>
<text x="466.3" y="481.46" font-size="6" text-anchor="end" font-weight="normal" font-style="normal" fill="#4d4d4d" >0.5</text>
<text transform="translate(453.1,507.5) rotate(-90)" font-size="5.8" text-anchor="middle" font-weight="normal" fill="#1a1a1a" >Ranked List Metric</text>
<line x1="496.9" y1="556.5" x2="496.9" y2="640.5" stroke="#f4f4f4" stroke-width="0.6"/>
<line x1="537.7" y1="556.5" x2="537.7" y2="640.5" stroke="#f4f4f4" stroke-width="0.6"/>
<line x1="578.5" y1="556.5" x2="578.5" y2="640.5" stroke="#f4f4f4" stroke-width="0.6"/>
<line x1="619.3" y1="556.5" x2="619.3" y2="640.5" stroke="#f4f4f4" stroke-width="0.6"/>
<line x1="468.5" y1="638.35" x2="648.5" y2="638.35" stroke="#f4f4f4" stroke-width="0.6"/>
<line x1="468.5" y1="621.45" x2="648.5" y2="621.45" stroke="#f4f4f4" stroke-width="0.6"/>
<line x1="468.5" y1="604.55" x2="648.5" y2="604.55" stroke="#f4f4f4" stroke-width="0.6"/>
<line x1="468.5" y1="587.65" x2="648.5" y2="587.65" stroke="#f4f4f4" stroke-width="0.6"/>
<line x1="468.5" y1="570.75" x2="648.5" y2="570.75" stroke="#f4f4f4" stroke-width="0.6"/>
<line x1="476.5" y1="556.5" x2="476.5" y2="640.5" stroke="#ebebeb" stroke-width="0.8"/>
<line x1="517.3" y1="556.5" x2="517.3" y2="640.5" stroke="#ebebeb" stroke-width="0.8"/>
<line x1="558.1" y1="556.5" x2="558.1" y2="640.5" stroke="#ebebeb" stroke-width="0.8"/>
<line x1="598.9" y1="556.5" x2="598.9" y2="640.5" stroke="#ebebeb" stroke-width="0.8"/>
<line x1="639.7" y1="556.5" x2="639.7" y2="640.5" stroke="#ebebeb" stroke-width="0.8"/>
<line x1="468.5" y1="629.9" x2="648.5" y2="629.9" stroke="#ebebeb" stroke-width="0.8"/>
<line x1="466.9" y1="629.9" x2="468.5" y2="629.9" stroke="#7a7a7a" stroke-width="0.7"/>
<text x="466.3" y="632.06" font-size="6" text-anchor="end" font-weight="normal" font-style="normal" fill="#4d4d4d" >0.0</text>
<line x1="468.5" y1="613" x2="648.5" y2="613" stroke="#ebebeb" stroke-width="0.8"/>
<line x1="466.9" y1="613" x2="468.5" y2="613" stroke="#7a7a7a" stroke-width="0.7"/>
<text x="466.3" y="615.16" font-size="6" text-anchor="end" font-weight="normal" font-style="normal" fill="#4d4d4d" >0.1</text>
<line x1="468.5" y1="596.1" x2="648.5" y2="596.1" stroke="#ebebeb" stroke-width="0.8"/>
<line x1="466.9" y1="596.1" x2="468.5" y2="596.1" stroke="#7a7a7a" stroke-width="0.7"/>
<text x="466.3" y="598.26" font-size="6" text-anchor="end" font-weight="normal" font-style="normal" fill="#4d4d4d" >0.2</text>
<line x1="468.5" y1="579.2" x2="648.5" y2="579.2" stroke="#ebebeb" stroke-width="0.8"/>
<line x1="466.9" y1="579.2" x2="468.5" y2="579.2" stroke="#7a7a7a" stroke-width="0.7"/>
<text x="466.3" y="581.36" font-size="6" text-anchor="end" font-weight="normal" font-style="normal" fill="#4d4d4d" >0.3</text>
<line x1="468.5" y1="562.3" x2="648.5" y2="562.3" stroke="#ebebeb" stroke-width="0.8"/>
<line x1="466.9" y1="562.3" x2="468.5" y2="562.3" stroke="#7a7a7a" stroke-width="0.7"/>
<text x="466.3" y="564.46" font-size="6" text-anchor="end" font-weight="normal" font-style="normal" fill="#4d4d4d" >0.4</text>
<text transform="translate(452.8,598.5) rotate(-90)" font-size="5.8" text-anchor="middle" font-weight="normal" fill="#1a1a1a" >Running Enrichment Score</text>
<g>
<polygon points="478.6,497 478.6,469.6 479.1,469.6 479.6,470.81 479.6,497" fill="#333"/>
<polygon points="481,497 481,474.19 481.5,475.4 482,476.56 482,497" fill="#555"/>
<polygon points="483.1,497 483.1,479.1 484.4,479.7 484.4,497" fill="#888"/>
<polygon points="486,497 486,482 488.3,483.7 488.3,497" fill="#333"/>
<polygon points="488.3,497 488.3,483.7 491.6,485.4 491.6,497" fill="#000"/>
<polygon points="491.6,497 491.6,485.4 493.6,486.3 493.6,497" fill="#999"/>
<polygon points="494.9,497 494.9,487 497.5,488 497.5,497" fill="#222"/>
<polygon points="498.8,497 498.8,488.6 500.4,489 500.4,497" fill="#777"/>
<polygon points="500.8,497 500.8,489.6 503.4,490.6 503.4,497" fill="#111"/>
<polygon points="503.4,497 503.4,490.6 506.7,491 506.7,497" fill="#999"/>
<polygon points="510,497 510,492.4 512,492.8 512,497" fill="#777"/>
<polygon points="515.3,497 515.3,493.7 517.2,494 517.2,497" fill="#333"/>
<polygon points="517.9,497 517.9,494.14 521.2,494.8 521.2,497" fill="#444"/>
<polygon points="525,497 525,495.43 525.4,495.5 525.8,495.56 525.8,497" fill="#222"/>
<polygon points="529.7,497 529.7,496.18 531.7,496.5 531.7,497" fill="#bbb"/>
<polygon points="537.6,497 537.6,496.87 538,496.9 538.4,496.93 538.4,497" fill="#999"/>
<polygon points="541.5,497 541.5,497.19 542.9,497.3 542.9,497" fill="#888"/>
<polygon points="545.7,497 545.7,497.74 546.1,497.8 546.5,497.89 546.5,497" fill="#555"/>
<polygon points="552.2,497 552.2,499.2 553,499.24 553,497" fill="#555"/>
<polygon points="554,497 554,499.28 554.4,499.3 554.8,499.38 554.8,497" fill="#555"/>
<polygon points="563,497 563,501.02 563.4,501.1 563.8,501.15 563.8,497" fill="#333"/>
<polygon points="566.1,497 566.1,501.47 567.8,501.7 567.8,497" fill="#444"/>
<polygon points="571.2,497 571.2,502.51 571.6,502.6 572,502.73 572,497" fill="#888"/>
<polygon points="575.1,497 575.1,503.7 577,504 577,497" fill="#333"/>
<polygon points="579.2,497 579.2,504.93 579.6,505.1 580,505.2 580,497" fill="#555"/>
<polygon points="591.2,497 591.2,507.9 591.6,508 592,508.11 592,497" fill="#555"/>
<polygon points="598.9,497 598.9,510.09 599.3,510.2 599.7,510.41 599.7,497" fill="#888"/>
<polygon points="601,497 601,511.09 601.4,511.3 601.8,511.44 601.8,497" fill="#777"/>
<polygon points="608,497 608,513.66 608.4,513.8 608.8,514.03 608.8,497" fill="#888"/>
<polygon points="615,497 615,517.57 615.4,517.8 615.8,518.1 615.8,497" fill="#444"/>
<polygon points="621.3,497 621.3,522.23 621.8,522.6 622.3,523.4 622.3,497" fill="#aaa"/>
<polygon points="636.1,497 636.1,545.6 636.6,546.4 637.1,546.4 637.1,497" fill="#666"/>
</g>
<line x1="468.5" y1="629.9" x2="648.5" y2="629.9" stroke="#3a3a3a" stroke-width="1.0"/>
<rect x="478.6" y="625.9" width="1" height="8" fill="#1e1e1e"/>
<rect x="481" y="625.9" width="1" height="8" fill="#333333"/>
<rect x="483.1" y="625.9" width="1.3" height="8" fill="#515151"/>
<line x1="486.57" y1="625.9" x2="486.57" y2="633.9" stroke="#000" stroke-width="1.01"/>
<line x1="487.73" y1="625.9" x2="487.73" y2="633.9" stroke="#000" stroke-width="1.01"/>
<line x1="489.12" y1="625.9" x2="489.12" y2="633.9" stroke="#000" stroke-width="1.65"/>
<line x1="490.78" y1="625.9" x2="490.78" y2="633.9" stroke="#000" stroke-width="1.65"/>
<line x1="492.6" y1="625.9" x2="492.6" y2="633.9" stroke="#000" stroke-width="1.29"/>
<line x1="495.55" y1="625.9" x2="495.55" y2="633.9" stroke="#000" stroke-width="1.2"/>
<line x1="496.85" y1="625.9" x2="496.85" y2="633.9" stroke="#000" stroke-width="1.2"/>
<rect x="498.8" y="625.9" width="1.6" height="8" fill="#474747"/>
<line x1="501.45" y1="625.9" x2="501.45" y2="633.9" stroke="#000" stroke-width="1.25"/>
<line x1="502.75" y1="625.9" x2="502.75" y2="633.9" stroke="#000" stroke-width="1.25"/>
<line x1="504.22" y1="625.9" x2="504.22" y2="633.9" stroke="#000" stroke-width="1.06"/>
<line x1="505.88" y1="625.9" x2="505.88" y2="633.9" stroke="#000" stroke-width="1.06"/>
<line x1="511" y1="625.9" x2="511" y2="633.9" stroke="#000" stroke-width="1.44"/>
<line x1="516.25" y1="625.9" x2="516.25" y2="633.9" stroke="#000" stroke-width="1.68"/>
<line x1="518.73" y1="625.9" x2="518.73" y2="633.9" stroke="#000" stroke-width="1.39"/>
<line x1="520.38" y1="625.9" x2="520.38" y2="633.9" stroke="#000" stroke-width="1.39"/>
<rect x="525" y="625.9" width="0.8" height="8" fill="#141414"/>
<line x1="530.7" y1="625.9" x2="530.7" y2="633.9" stroke="#000" stroke-width="1.12"/>
<rect x="537.6" y="625.9" width="0.8" height="8" fill="#5b5b5b"/>
<rect x="541.5" y="625.9" width="1.4" height="8" fill="#515151"/>
<rect x="545.7" y="625.9" width="0.8" height="8" fill="#333333"/>
<rect x="552.2" y="625.9" width="0.8" height="8" fill="#333333"/>
<rect x="554" y="625.9" width="0.8" height="8" fill="#333333"/>
<rect x="563" y="625.9" width="0.8" height="8" fill="#1e1e1e"/>
<rect x="566.1" y="625.9" width="1.7" height="8" fill="#282828"/>
<rect x="571.2" y="625.9" width="0.8" height="8" fill="#515151"/>
<line x1="576.05" y1="625.9" x2="576.05" y2="633.9" stroke="#000" stroke-width="1.68"/>
<rect x="579.2" y="625.9" width="0.8" height="8" fill="#333333"/>
<rect x="591.2" y="625.9" width="0.8" height="8" fill="#333333"/>
<rect x="598.9" y="625.9" width="0.8" height="8" fill="#515151"/>
<rect x="601" y="625.9" width="0.8" height="8" fill="#474747"/>
<rect x="608" y="625.9" width="0.8" height="8" fill="#515151"/>
<rect x="615" y="625.9" width="0.8" height="8" fill="#282828"/>
<rect x="621.3" y="625.9" width="1" height="8" fill="#666666"/>
<rect x="636.1" y="625.9" width="1" height="8" fill="#3d3d3d"/>
<line x1="504.5" y1="556.5" x2="504.5" y2="640.5" stroke="#ff8c8c" stroke-width="0.9" stroke-dasharray="1.3,2.1"/>
<polyline points="476.8,629.8 478.9,632.4 479.1,626.2 480.7,628.2 481.5,619.7 483.1,620.6 484.4,611.8 486,612.4 487.7,608.5 489.4,602.6 490.7,586.8 492.3,580.2 494.2,578.9 495.6,579.9 496.5,573.7 498.2,569.7 500.8,566.7 502.5,564.5 503.4,560.5 505.4,560.1 507.4,561.9 510.7,564.5 511.7,562.5 515.3,565.8 519.9,567.1 522.5,568.4 539.6,587.5 550,595.5 554.4,598.7 562.4,607.5 563.9,606.3 565.8,608.2 567.5,606.7 571.2,609.7 575.5,612.6 576.6,607.2 579.2,608.2 590.9,619.9 591.6,615.5 598.9,622.5 600.4,619.9 601.8,619.9 607.7,625 608.4,622.8 615,629.1 615.4,620.6 621.5,627.2 622,621.8 636.1,636.4 636.9,625.7 639.8,629.1" fill="none" stroke="#19fa19" stroke-width="1.4" stroke-linejoin="round"/>
<line x1="476.5" y1="640.5" x2="476.5" y2="642.1" stroke="#7a7a7a" stroke-width="0.7"/>
<text x="476.5" y="646.8" font-size="6" text-anchor="middle" font-weight="normal" font-style="normal" fill="#4d4d4d" >0</text>
<line x1="517.3" y1="640.5" x2="517.3" y2="642.1" stroke="#7a7a7a" stroke-width="0.7"/>
<text x="517.3" y="646.8" font-size="6" text-anchor="middle" font-weight="normal" font-style="normal" fill="#4d4d4d" >5000</text>
<line x1="558.1" y1="640.5" x2="558.1" y2="642.1" stroke="#7a7a7a" stroke-width="0.7"/>
<text x="558.1" y="646.8" font-size="6" text-anchor="middle" font-weight="normal" font-style="normal" fill="#4d4d4d" >10000</text>
<line x1="598.9" y1="640.5" x2="598.9" y2="642.1" stroke="#7a7a7a" stroke-width="0.7"/>
<text x="598.9" y="646.8" font-size="6" text-anchor="middle" font-weight="normal" font-style="normal" fill="#4d4d4d" >15000</text>
<line x1="639.7" y1="640.5" x2="639.7" y2="642.1" stroke="#7a7a7a" stroke-width="0.7"/>
<text x="639.7" y="646.8" font-size="6" text-anchor="middle" font-weight="normal" font-style="normal" fill="#4d4d4d" >20000</text>
<text x="558.4" y="653.8" font-size="5.75" text-anchor="middle" font-weight="normal" font-style="normal" fill="#1a1a1a" >Position in the Ranked List of Genes</text>
<line x1="468.5" y1="465.5" x2="648.5" y2="465.5" stroke="#bdbdbd" stroke-width="1.3"/>
<polyline points="468.5,465.5 468.5,549.5 648.5,549.5 648.5,465.5" fill="none" stroke="#7a7a7a" stroke-width="1"/>
<line x1="468.5" y1="556.5" x2="648.5" y2="556.5" stroke="#bdbdbd" stroke-width="1.3"/>
<polyline points="468.5,556.5 468.5,640.5 648.5,640.5 648.5,556.5" fill="none" stroke="#7a7a7a" stroke-width="1"/>
<text x="9" y="687" font-size="23.5" text-anchor="start" font-weight="bold" font-style="normal" fill="#000" >i</text>
<text x="122" y="692" font-size="9" text-anchor="middle" font-weight="normal" font-style="normal" fill="#1a1a1a" >oxidative phosphorylation</text>
<line x1="63.3" y1="697.5" x2="63.3" y2="781" stroke="#f4f4f4" stroke-width="0.6"/>
<line x1="104.7" y1="697.5" x2="104.7" y2="781" stroke="#f4f4f4" stroke-width="0.6"/>
<line x1="146.1" y1="697.5" x2="146.1" y2="781" stroke="#f4f4f4" stroke-width="0.6"/>
<line x1="187.5" y1="697.5" x2="187.5" y2="781" stroke="#f4f4f4" stroke-width="0.6"/>
<line x1="34.5" y1="775.75" x2="210.5" y2="775.75" stroke="#f4f4f4" stroke-width="0.6"/>
<line x1="34.5" y1="753.25" x2="210.5" y2="753.25" stroke="#f4f4f4" stroke-width="0.6"/>
<line x1="34.5" y1="730.75" x2="210.5" y2="730.75" stroke="#f4f4f4" stroke-width="0.6"/>
<line x1="34.5" y1="708.25" x2="210.5" y2="708.25" stroke="#f4f4f4" stroke-width="0.6"/>
<line x1="42.6" y1="697.5" x2="42.6" y2="781" stroke="#ebebeb" stroke-width="0.8"/>
<line x1="84" y1="697.5" x2="84" y2="781" stroke="#ebebeb" stroke-width="0.8"/>
<line x1="125.4" y1="697.5" x2="125.4" y2="781" stroke="#ebebeb" stroke-width="0.8"/>
<line x1="166.8" y1="697.5" x2="166.8" y2="781" stroke="#ebebeb" stroke-width="0.8"/>
<line x1="208.2" y1="697.5" x2="208.2" y2="781" stroke="#ebebeb" stroke-width="0.8"/>
<line x1="34.5" y1="764.5" x2="210.5" y2="764.5" stroke="#ebebeb" stroke-width="0.8"/>
<line x1="32.9" y1="764.5" x2="34.5" y2="764.5" stroke="#7a7a7a" stroke-width="0.7"/>
<text x="32.3" y="766.66" font-size="6" text-anchor="end" font-weight="normal" font-style="normal" fill="#4d4d4d" >-1</text>
<line x1="34.5" y1="742" x2="210.5" y2="742" stroke="#ebebeb" stroke-width="0.8"/>
<line x1="32.9" y1="742" x2="34.5" y2="742" stroke="#7a7a7a" stroke-width="0.7"/>
<text x="32.3" y="744.16" font-size="6" text-anchor="end" font-weight="normal" font-style="normal" fill="#4d4d4d" >0</text>
<line x1="34.5" y1="719.5" x2="210.5" y2="719.5" stroke="#ebebeb" stroke-width="0.8"/>
<line x1="32.9" y1="719.5" x2="34.5" y2="719.5" stroke="#7a7a7a" stroke-width="0.7"/>
<text x="32.3" y="721.66" font-size="6" text-anchor="end" font-weight="normal" font-style="normal" fill="#4d4d4d" >1</text>
<text transform="translate(16.3,739.25) rotate(-90)" font-size="5.8" text-anchor="middle" font-weight="normal" fill="#1a1a1a" >Ranked List Metric</text>
<line x1="63.3" y1="786.5" x2="63.3" y2="870.5" stroke="#f4f4f4" stroke-width="0.6"/>
<line x1="104.7" y1="786.5" x2="104.7" y2="870.5" stroke="#f4f4f4" stroke-width="0.6"/>
<line x1="146.1" y1="786.5" x2="146.1" y2="870.5" stroke="#f4f4f4" stroke-width="0.6"/>
<line x1="187.5" y1="786.5" x2="187.5" y2="870.5" stroke="#f4f4f4" stroke-width="0.6"/>
<line x1="34.5" y1="865.6" x2="210.5" y2="865.6" stroke="#f4f4f4" stroke-width="0.6"/>
<line x1="34.5" y1="848.8" x2="210.5" y2="848.8" stroke="#f4f4f4" stroke-width="0.6"/>
<line x1="34.5" y1="832" x2="210.5" y2="832" stroke="#f4f4f4" stroke-width="0.6"/>
<line x1="34.5" y1="815.2" x2="210.5" y2="815.2" stroke="#f4f4f4" stroke-width="0.6"/>
<line x1="34.5" y1="798.4" x2="210.5" y2="798.4" stroke="#f4f4f4" stroke-width="0.6"/>
<line x1="42.6" y1="786.5" x2="42.6" y2="870.5" stroke="#ebebeb" stroke-width="0.8"/>
<line x1="84" y1="786.5" x2="84" y2="870.5" stroke="#ebebeb" stroke-width="0.8"/>
<line x1="125.4" y1="786.5" x2="125.4" y2="870.5" stroke="#ebebeb" stroke-width="0.8"/>
<line x1="166.8" y1="786.5" x2="166.8" y2="870.5" stroke="#ebebeb" stroke-width="0.8"/>
<line x1="208.2" y1="786.5" x2="208.2" y2="870.5" stroke="#ebebeb" stroke-width="0.8"/>
<line x1="34.5" y1="857.2" x2="210.5" y2="857.2" stroke="#ebebeb" stroke-width="0.8"/>
<line x1="32.9" y1="857.2" x2="34.5" y2="857.2" stroke="#7a7a7a" stroke-width="0.7"/>
<text x="32.3" y="859.36" font-size="6" text-anchor="end" font-weight="normal" font-style="normal" fill="#4d4d4d" >-0.10</text>
<line x1="34.5" y1="840.4" x2="210.5" y2="840.4" stroke="#ebebeb" stroke-width="0.8"/>
<line x1="32.9" y1="840.4" x2="34.5" y2="840.4" stroke="#7a7a7a" stroke-width="0.7"/>
<text x="32.3" y="842.56" font-size="6" text-anchor="end" font-weight="normal" font-style="normal" fill="#4d4d4d" >-0.05</text>
<line x1="34.5" y1="823.6" x2="210.5" y2="823.6" stroke="#ebebeb" stroke-width="0.8"/>
<line x1="32.9" y1="823.6" x2="34.5" y2="823.6" stroke="#7a7a7a" stroke-width="0.7"/>
<text x="32.3" y="825.76" font-size="6" text-anchor="end" font-weight="normal" font-style="normal" fill="#4d4d4d" >0.00</text>
<line x1="34.5" y1="806.8" x2="210.5" y2="806.8" stroke="#ebebeb" stroke-width="0.8"/>
<line x1="32.9" y1="806.8" x2="34.5" y2="806.8" stroke="#7a7a7a" stroke-width="0.7"/>
<text x="32.3" y="808.96" font-size="6" text-anchor="end" font-weight="normal" font-style="normal" fill="#4d4d4d" >0.05</text>
<line x1="34.5" y1="790" x2="210.5" y2="790" stroke="#ebebeb" stroke-width="0.8"/>
<line x1="32.9" y1="790" x2="34.5" y2="790" stroke="#7a7a7a" stroke-width="0.7"/>
<text x="32.3" y="792.16" font-size="6" text-anchor="end" font-weight="normal" font-style="normal" fill="#4d4d4d" >0.10</text>
<text transform="translate(15.8,828.5) rotate(-90)" font-size="5.8" text-anchor="middle" font-weight="normal" fill="#1a1a1a" >Running Enrichment Score</text>
<g>
<polygon points="43.2,742 43.2,700.8 45.1,700.8 45.1,742" fill="#ccc"/>
<polygon points="45.1,742 45.1,700.8 45.3,708.5 45.9,710.03 45.9,742" fill="#bbb"/>
<polygon points="46.2,742 46.2,710.8 47.1,711 47.1,742" fill="#555"/>
<polygon points="52,742 52,718.95 52.4,719.6 52.8,720.15 52.8,742" fill="#555"/>
<polygon points="54.3,742 54.3,722.2 55.7,722.5 55.7,742" fill="#777"/>
<polygon points="58.9,742 58.9,725.43 59.3,725.8 59.7,726.06 59.7,742" fill="#666"/>
<polygon points="62.1,742 62.1,727.64 62.5,727.9 62.9,728.1 62.9,742" fill="#666"/>
<polygon points="67.7,742 67.7,730.5 68.8,730.7 68.8,742" fill="#555"/>
<polygon points="70,742 70,731.52 70.4,731.8 70.8,731.96 70.8,742" fill="#777"/>
<polygon points="75,742 75,733.64 75.4,733.8 75.8,734.03 75.8,742" fill="#555"/>
<polygon points="78.2,742 78.2,735.4 79.6,735.6 79.6,742" fill="#444"/>
<polygon points="84.3,742 84.3,737.4 86.5,738 86.5,742" fill="#777"/>
<polygon points="90.1,742 90.1,739.17 90.5,739.3 90.9,739.46 90.9,742" fill="#444"/>
<polygon points="91.8,742 91.8,739.84 92.2,740 92.6,740.11 92.6,742" fill="#222"/>
<polygon points="95.3,742 95.3,740.89 95.7,741 96.1,741.08 96.1,742" fill="#aaa"/>
<polygon points="99,742 99,741.68 99.6,741.8 99.6,742" fill="#bbb"/>
<polygon points="101,742 101,742.09 101.6,742.21 101.6,742" fill="#bbb"/>
<polygon points="102.6,742 102.6,742.42 103,742.5 103.2,742.57 103.2,742" fill="#bbb"/>
<polygon points="105.3,742 105.3,743.3 106.2,743.3 106.2,742" fill="#333"/>
<polygon points="107.8,742 107.8,743.78 108.2,743.9 108.6,744.02 108.6,742" fill="#777"/>
<polygon points="110.2,742 110.2,744.48 110.6,744.6 111,744.74 111,742" fill="#888"/>
<polygon points="113.2,742 113.2,745.5 114.8,745.5 114.8,742" fill="#111"/>
<polygon points="116.1,742 116.1,746.3 118.1,746.47 118.1,742" fill="#999"/>
<polygon points="118.7,742 118.7,746.53 120.7,746.7 120.7,742" fill="#555"/>
<polygon points="122.2,742 122.2,747.4 123.5,747.57 123.5,742" fill="#666"/>
<polygon points="123.8,742 123.8,747.61 125.2,747.8 125.2,742" fill="#333"/>
<polygon points="126.6,742 126.6,748.06 128.4,748.4 128.4,742" fill="#777"/>
<polygon points="128.8,742 128.8,748.51 131.2,749.2 131.2,742" fill="#555"/>
<polygon points="131.6,742 131.6,749.31 133.3,749.8 133.3,742" fill="#888"/>
<polygon points="133.5,742 133.5,749.88 135.3,750.6 135.3,742" fill="#ccc"/>
<polygon points="137.7,742 137.7,750.81 138.8,750.9 138.8,742" fill="#555"/>
<polygon points="141.9,742 141.9,751.67 143.2,752 143.2,742" fill="#333"/>
<polygon points="144.4,742 144.4,752.26 145.5,752.5 145.5,742" fill="#999"/>
<polygon points="149.2,742 149.2,753.24 151,753.6 151,742" fill="#888"/>
<polygon points="152,742 152,753.99 153.8,754.7 153.8,742" fill="#000"/>
<polygon points="156.1,742 156.1,754.91 157.1,755 157.1,742" fill="#444"/>
<polygon points="160.3,742 160.3,755.85 162.4,756.4 162.4,742" fill="#bbb"/>
<polygon points="163.8,742 163.8,756.84 165.9,757.5 165.9,742" fill="#777"/>
<polygon points="170,742 170,758.68 171.8,759.2 171.8,742" fill="#666"/>
<polygon points="178.3,742 178.3,761.5 179.7,762 179.7,742" fill="#aaa"/>
<polygon points="186,742 186,764.78 187.4,765.4 187.4,742" fill="#444"/>
<polygon points="187.6,742 187.6,765.52 189,766.4 189,742" fill="#777"/>
<polygon points="195.4,742 195.4,774.4 197.1,775.5 197.1,742" fill="#444"/>
<polygon points="197.1,742 197.1,775.5 198.7,777.2 198.7,742" fill="#888"/>
</g>
<line x1="34.5" y1="823.6" x2="210.5" y2="823.6" stroke="#3a3a3a" stroke-width="1.0"/>
<line x1="44.15" y1="819.6" x2="44.15" y2="827.6" stroke="#000" stroke-width="0.99"/>
<rect x="45.1" y="819.6" width="0.8" height="8" fill="#707070"/>
<rect x="46.2" y="819.6" width="0.9" height="8" fill="#333333"/>
<rect x="52" y="819.6" width="0.8" height="8" fill="#333333"/>
<rect x="54.3" y="819.6" width="1.4" height="8" fill="#474747"/>
<rect x="58.9" y="819.6" width="0.8" height="8" fill="#3d3d3d"/>
<rect x="62.1" y="819.6" width="0.8" height="8" fill="#3d3d3d"/>
<rect x="67.7" y="819.6" width="1.1" height="8" fill="#333333"/>
<rect x="70" y="819.6" width="0.8" height="8" fill="#474747"/>
<rect x="75" y="819.6" width="0.8" height="8" fill="#333333"/>
<rect x="78.2" y="819.6" width="1.4" height="8" fill="#282828"/>
<line x1="85.4" y1="819.6" x2="85.4" y2="827.6" stroke="#000" stroke-width="1.59"/>
<rect x="90.1" y="819.6" width="0.8" height="8" fill="#282828"/>
<rect x="91.8" y="819.6" width="0.8" height="8" fill="#141414"/>
<rect x="95.3" y="819.6" width="0.8" height="8" fill="#666666"/>
<rect x="99" y="819.6" width="0.6" height="8" fill="#707070"/>
<rect x="101" y="819.6" width="0.6" height="8" fill="#707070"/>
<rect x="102.6" y="819.6" width="0.6" height="8" fill="#707070"/>
<rect x="105.3" y="819.6" width="0.9" height="8" fill="#1e1e1e"/>
<rect x="107.8" y="819.6" width="0.8" height="8" fill="#474747"/>
<rect x="110.2" y="819.6" width="0.8" height="8" fill="#515151"/>
<rect x="113.2" y="819.6" width="1.6" height="8" fill="#0a0a0a"/>
<line x1="117.1" y1="819.6" x2="117.1" y2="827.6" stroke="#000" stroke-width="1.29"/>
<line x1="119.7" y1="819.6" x2="119.7" y2="827.6" stroke="#000" stroke-width="1.6"/>
<rect x="122.2" y="819.6" width="1.3" height="8" fill="#3d3d3d"/>
<rect x="123.8" y="819.6" width="1.4" height="8" fill="#1e1e1e"/>
<line x1="127.5" y1="819.6" x2="127.5" y2="827.6" stroke="#000" stroke-width="1.3"/>
<line x1="129.4" y1="819.6" x2="129.4" y2="827.6" stroke="#000" stroke-width="0.96"/>
<line x1="130.6" y1="819.6" x2="130.6" y2="827.6" stroke="#000" stroke-width="0.96"/>
<rect x="131.6" y="819.6" width="1.7" height="8" fill="#515151"/>
<line x1="134.4" y1="819.6" x2="134.4" y2="827.6" stroke="#000" stroke-width="0.94"/>
<rect x="137.7" y="819.6" width="1.1" height="8" fill="#333333"/>
<rect x="141.9" y="819.6" width="1.3" height="8" fill="#1e1e1e"/>
<rect x="144.4" y="819.6" width="1.1" height="8" fill="#5b5b5b"/>
<line x1="150.1" y1="819.6" x2="150.1" y2="827.6" stroke="#000" stroke-width="1.23"/>
<line x1="152.9" y1="819.6" x2="152.9" y2="827.6" stroke="#000" stroke-width="1.8"/>
<rect x="156.1" y="819.6" width="1" height="8" fill="#282828"/>
<line x1="161.35" y1="819.6" x2="161.35" y2="827.6" stroke="#000" stroke-width="1.18"/>
<line x1="164.85" y1="819.6" x2="164.85" y2="827.6" stroke="#000" stroke-width="1.52"/>
<line x1="170.9" y1="819.6" x2="170.9" y2="827.6" stroke="#000" stroke-width="1.37"/>
<rect x="178.3" y="819.6" width="1.4" height="8" fill="#666666"/>
<rect x="186" y="819.6" width="1.4" height="8" fill="#282828"/>
<rect x="187.6" y="819.6" width="1.4" height="8" fill="#474747"/>
<rect x="195.4" y="819.6" width="1.7" height="8" fill="#282828"/>
<rect x="197.1" y="819.6" width="1.6" height="8" fill="#515151"/>
<line x1="142.5" y1="786.5" x2="142.5" y2="870.5" stroke="#ff8c8c" stroke-width="0.9" stroke-dasharray="1.3,2.1"/>
<polyline points="42.5,823.2 43.6,826.7 44.1,812.9 45.1,815.5 45.8,806.3 46.7,796.5 51.7,806.3 52.8,799.8 54.3,803.7 55.7,793.2 59.3,801.1 59.9,790.6 61.6,793.2 62.5,791.9 67.5,801.7 69,793.2 70.8,795.2 74.7,801.7 75.6,799.5 77.3,802.4 79,800 80.9,802.4 83.9,808.3 85.9,809.6 91.1,818.8 95.1,824.7 104.3,843.8 108.2,849.7 112.8,856.3 114.1,855.6 118.7,861.5 120.1,860.6 122.2,861.7 124.2,859.6 126.3,862.4 128.4,863.8 129.8,861 133.3,857.5 135.3,859.6 137.4,858.9 138.8,861.7 140.9,863.1 142.3,865.8 142.7,859.6 144.1,858.9 145.5,851.3 147.8,857.5 149.9,855.4 152,854.7 153.8,842.9 155.4,847.1 156.8,840.2 159.6,845 162.4,836 163.8,839.5 165.9,827 170.4,836 171.4,827.7 179,842.3 180.1,837.4 186,849.9 188.7,829.8 195.7,845 197.1,825.6 197.8,814.5 201.9,823.5" fill="none" stroke="#19fa19" stroke-width="1.4" stroke-linejoin="round"/>
<line x1="42.6" y1="870.5" x2="42.6" y2="872.1" stroke="#7a7a7a" stroke-width="0.7"/>
<text x="42.6" y="876.8" font-size="6" text-anchor="middle" font-weight="normal" font-style="normal" fill="#4d4d4d" >0</text>
<line x1="84" y1="870.5" x2="84" y2="872.1" stroke="#7a7a7a" stroke-width="0.7"/>
<text x="84" y="876.8" font-size="6" text-anchor="middle" font-weight="normal" font-style="normal" fill="#4d4d4d" >2500</text>
<line x1="125.4" y1="870.5" x2="125.4" y2="872.1" stroke="#7a7a7a" stroke-width="0.7"/>
<text x="125.4" y="876.8" font-size="6" text-anchor="middle" font-weight="normal" font-style="normal" fill="#4d4d4d" >5000</text>
<line x1="166.8" y1="870.5" x2="166.8" y2="872.1" stroke="#7a7a7a" stroke-width="0.7"/>
<text x="166.8" y="876.8" font-size="6" text-anchor="middle" font-weight="normal" font-style="normal" fill="#4d4d4d" >7500</text>
<line x1="208.2" y1="870.5" x2="208.2" y2="872.1" stroke="#7a7a7a" stroke-width="0.7"/>
<text x="208.2" y="876.8" font-size="6" text-anchor="middle" font-weight="normal" font-style="normal" fill="#4d4d4d" >10000</text>
<text x="122.3" y="883" font-size="5.75" text-anchor="middle" font-weight="normal" font-style="normal" fill="#1a1a1a" >Position in the Ranked List of Genes</text>
<line x1="34.5" y1="697.5" x2="210.5" y2="697.5" stroke="#bdbdbd" stroke-width="1.3"/>
<polyline points="34.5,697.5 34.5,781 210.5,781 210.5,697.5" fill="none" stroke="#7a7a7a" stroke-width="1"/>
<line x1="34.5" y1="786.5" x2="210.5" y2="786.5" stroke="#bdbdbd" stroke-width="1.3"/>
<polyline points="34.5,786.5 34.5,870.5 210.5,870.5 210.5,786.5" fill="none" stroke="#7a7a7a" stroke-width="1"/>
<text x="218" y="687" font-size="23.5" text-anchor="start" font-weight="bold" font-style="normal" fill="#000" >j</text>
<text x="236.8" y="692.6" font-size="9" text-anchor="start" font-weight="normal" font-style="normal" fill="#1a1a1a" >Mitochondria respiratory chain complex assemb</text>
<line x1="276.74" y1="698.5" x2="276.74" y2="781.5" stroke="#f4f4f4" stroke-width="0.6"/>
<line x1="317.61" y1="698.5" x2="317.61" y2="781.5" stroke="#f4f4f4" stroke-width="0.6"/>
<line x1="358.49" y1="698.5" x2="358.49" y2="781.5" stroke="#f4f4f4" stroke-width="0.6"/>
<line x1="399.36" y1="698.5" x2="399.36" y2="781.5" stroke="#f4f4f4" stroke-width="0.6"/>
<line x1="248.5" y1="775.88" x2="423.5" y2="775.88" stroke="#f4f4f4" stroke-width="0.6"/>
<line x1="248.5" y1="751.02" x2="423.5" y2="751.02" stroke="#f4f4f4" stroke-width="0.6"/>
<line x1="248.5" y1="726.18" x2="423.5" y2="726.18" stroke="#f4f4f4" stroke-width="0.6"/>
<line x1="248.5" y1="701.33" x2="423.5" y2="701.33" stroke="#f4f4f4" stroke-width="0.6"/>
<line x1="256.3" y1="698.5" x2="256.3" y2="781.5" stroke="#ebebeb" stroke-width="0.8"/>
<line x1="297.18" y1="698.5" x2="297.18" y2="781.5" stroke="#ebebeb" stroke-width="0.8"/>
<line x1="338.05" y1="698.5" x2="338.05" y2="781.5" stroke="#ebebeb" stroke-width="0.8"/>
<line x1="378.93" y1="698.5" x2="378.93" y2="781.5" stroke="#ebebeb" stroke-width="0.8"/>
<line x1="419.8" y1="698.5" x2="419.8" y2="781.5" stroke="#ebebeb" stroke-width="0.8"/>
<line x1="248.5" y1="763.45" x2="423.5" y2="763.45" stroke="#ebebeb" stroke-width="0.8"/>
<line x1="246.9" y1="763.45" x2="248.5" y2="763.45" stroke="#7a7a7a" stroke-width="0.7"/>
<text x="246.3" y="765.61" font-size="6" text-anchor="end" font-weight="normal" font-style="normal" fill="#4d4d4d" >-1</text>
<line x1="248.5" y1="738.6" x2="423.5" y2="738.6" stroke="#ebebeb" stroke-width="0.8"/>
<line x1="246.9" y1="738.6" x2="248.5" y2="738.6" stroke="#7a7a7a" stroke-width="0.7"/>
<text x="246.3" y="740.76" font-size="6" text-anchor="end" font-weight="normal" font-style="normal" fill="#4d4d4d" >0</text>
<line x1="248.5" y1="713.75" x2="423.5" y2="713.75" stroke="#ebebeb" stroke-width="0.8"/>
<line x1="246.9" y1="713.75" x2="248.5" y2="713.75" stroke="#7a7a7a" stroke-width="0.7"/>
<text x="246.3" y="715.91" font-size="6" text-anchor="end" font-weight="normal" font-style="normal" fill="#4d4d4d" >1</text>
<text transform="translate(230.1,740) rotate(-90)" font-size="5.8" text-anchor="middle" font-weight="normal" fill="#1a1a1a" >Ranked List Metric</text>
<line x1="276.74" y1="787.5" x2="276.74" y2="871.5" stroke="#f4f4f4" stroke-width="0.6"/>
<line x1="317.61" y1="787.5" x2="317.61" y2="871.5" stroke="#f4f4f4" stroke-width="0.6"/>
<line x1="358.49" y1="787.5" x2="358.49" y2="871.5" stroke="#f4f4f4" stroke-width="0.6"/>
<line x1="399.36" y1="787.5" x2="399.36" y2="871.5" stroke="#f4f4f4" stroke-width="0.6"/>
<line x1="248.5" y1="859" x2="423.5" y2="859" stroke="#f4f4f4" stroke-width="0.6"/>
<line x1="248.5" y1="843.8" x2="423.5" y2="843.8" stroke="#f4f4f4" stroke-width="0.6"/>
<line x1="248.5" y1="828.6" x2="423.5" y2="828.6" stroke="#f4f4f4" stroke-width="0.6"/>
<line x1="248.5" y1="813.4" x2="423.5" y2="813.4" stroke="#f4f4f4" stroke-width="0.6"/>
<line x1="248.5" y1="798.2" x2="423.5" y2="798.2" stroke="#f4f4f4" stroke-width="0.6"/>
<line x1="256.3" y1="787.5" x2="256.3" y2="871.5" stroke="#ebebeb" stroke-width="0.8"/>
<line x1="297.18" y1="787.5" x2="297.18" y2="871.5" stroke="#ebebeb" stroke-width="0.8"/>
<line x1="338.05" y1="787.5" x2="338.05" y2="871.5" stroke="#ebebeb" stroke-width="0.8"/>
<line x1="378.93" y1="787.5" x2="378.93" y2="871.5" stroke="#ebebeb" stroke-width="0.8"/>
<line x1="419.8" y1="787.5" x2="419.8" y2="871.5" stroke="#ebebeb" stroke-width="0.8"/>
<line x1="248.5" y1="866.6" x2="423.5" y2="866.6" stroke="#ebebeb" stroke-width="0.8"/>
<line x1="246.9" y1="866.6" x2="248.5" y2="866.6" stroke="#7a7a7a" stroke-width="0.7"/>
<text x="246.3" y="868.76" font-size="6" text-anchor="end" font-weight="normal" font-style="normal" fill="#4d4d4d" >-0.20</text>
<line x1="248.5" y1="851.4" x2="423.5" y2="851.4" stroke="#ebebeb" stroke-width="0.8"/>
<line x1="246.9" y1="851.4" x2="248.5" y2="851.4" stroke="#7a7a7a" stroke-width="0.7"/>
<text x="246.3" y="853.56" font-size="6" text-anchor="end" font-weight="normal" font-style="normal" fill="#4d4d4d" >-0.15</text>
<line x1="248.5" y1="836.2" x2="423.5" y2="836.2" stroke="#ebebeb" stroke-width="0.8"/>
<line x1="246.9" y1="836.2" x2="248.5" y2="836.2" stroke="#7a7a7a" stroke-width="0.7"/>
<text x="246.3" y="838.36" font-size="6" text-anchor="end" font-weight="normal" font-style="normal" fill="#4d4d4d" >-0.10</text>
<line x1="248.5" y1="821" x2="423.5" y2="821" stroke="#ebebeb" stroke-width="0.8"/>
<line x1="246.9" y1="821" x2="248.5" y2="821" stroke="#7a7a7a" stroke-width="0.7"/>
<text x="246.3" y="823.16" font-size="6" text-anchor="end" font-weight="normal" font-style="normal" fill="#4d4d4d" >-0.05</text>
<line x1="248.5" y1="805.8" x2="423.5" y2="805.8" stroke="#ebebeb" stroke-width="0.8"/>
<line x1="246.9" y1="805.8" x2="248.5" y2="805.8" stroke="#7a7a7a" stroke-width="0.7"/>
<text x="246.3" y="807.96" font-size="6" text-anchor="end" font-weight="normal" font-style="normal" fill="#4d4d4d" >0.00</text>
<line x1="248.5" y1="790.6" x2="423.5" y2="790.6" stroke="#ebebeb" stroke-width="0.8"/>
<line x1="246.9" y1="790.6" x2="248.5" y2="790.6" stroke="#7a7a7a" stroke-width="0.7"/>
<text x="246.3" y="792.76" font-size="6" text-anchor="end" font-weight="normal" font-style="normal" fill="#4d4d4d" >0.05</text>
<text transform="translate(230,829.5) rotate(-90)" font-size="5.8" text-anchor="middle" font-weight="normal" fill="#1a1a1a" >Running Enrichment Score</text>
<g>
<polygon points="259.1,738.6 259.1,701.9 259.8,701.9 259.8,738.6" fill="#bbb"/>
<polygon points="260.2,738.6 260.2,705.2 261.1,705.5 261.1,738.6" fill="#555"/>
<polygon points="269,738.6 269,717.11 269.4,717.7 269.8,718.1 269.8,738.6" fill="#666"/>
<polygon points="271.6,738.6 271.6,719.9 272.3,720.3 272.3,738.6" fill="#777"/>
<polygon points="272.9,738.6 272.9,721 274.9,722 274.9,738.6" fill="#555"/>
<polygon points="276.9,738.6 276.9,723.58 277.3,723.9 277.7,724.17 277.7,738.6" fill="#555"/>
<polygon points="281.2,738.6 281.2,726.5 282.8,726.8 282.8,738.6" fill="#444"/>
<polygon points="286.1,738.6 286.1,728.58 286.5,728.8 286.9,728.99 286.9,738.6" fill="#999"/>
<polygon points="289.4,738.6 289.4,730.2 293.6,731.7 293.6,738.6" fill="#777"/>
<polygon points="298.8,738.6 298.8,733.93 299.2,734.1 299.6,734.25 299.6,738.6" fill="#444"/>
<polygon points="301.8,738.6 301.8,735.05 302.2,735.2 302.6,735.36 302.6,738.6" fill="#777"/>
<polygon points="304.1,738.6 304.1,735.94 304.5,736.1 304.9,736.23 304.9,738.6" fill="#777"/>
<polygon points="306,738.6 306,736.57 306.4,736.7 306.8,736.83 306.8,738.6" fill="#444"/>
<polygon points="309.3,738.6 309.3,737.67 309.7,737.8 310.1,737.88 310.1,738.6" fill="#333"/>
<polygon points="315.2,738.6 315.2,738.92 315.6,739 316,739.24 316,738.6" fill="#ccc"/>
<polygon points="318.9,738.6 318.9,741 322.9,741.3 322.9,738.6" fill="#444"/>
<polygon points="324.8,738.6 324.8,742.3 328.1,742.6 328.1,738.6" fill="#666"/>
<polygon points="330.1,738.6 330.1,743.6 334,744 334,738.6" fill="#555"/>
<polygon points="336.9,738.6 336.9,745 338.7,745.2 338.7,738.6" fill="#555"/>
<polygon points="339.6,738.6 339.6,745.44 340.6,745.7 340.6,738.6" fill="#888"/>
<polygon points="341.7,738.6 341.7,745.87 343.8,746.2 343.8,738.6" fill="#666"/>
<polygon points="344.8,738.6 344.8,746.51 347.3,747.3 347.3,738.6" fill="#777"/>
<polygon points="347.3,738.6 347.3,747.3 348.9,748 348.9,738.6" fill="#333"/>
<polygon points="352.5,738.6 352.5,748.71 354.5,749.1 354.5,738.6" fill="#999"/>
<polygon points="356.3,738.6 356.3,749.77 357.2,750.1 357.2,738.6" fill="#777"/>
<polygon points="358.1,738.6 358.1,750.33 360,750.8 360,738.6" fill="#222"/>
<polygon points="360.4,738.6 360.4,750.9 362.8,751.5 362.8,738.6" fill="#555"/>
<polygon points="365,738.6 365,752.03 367.4,752.6 367.4,738.6" fill="#444"/>
<polygon points="370.8,738.6 370.8,753.27 372.5,753.6 372.5,738.6" fill="#888"/>
<polygon points="374.7,738.6 374.7,754.33 376.7,755 376.7,738.6" fill="#444"/>
<polygon points="378,738.6 378,755.47 379.2,755.9 379.2,738.6" fill="#ccc"/>
<polygon points="381.9,738.6 381.9,756.91 384,757.7 384,738.6" fill="#666"/>
<polygon points="391.9,738.6 391.9,760.36 394.4,761.2 394.4,738.6" fill="#777"/>
<polygon points="395.5,738.6 395.5,761.82 396.9,762.6 396.9,738.6" fill="#555"/>
<polygon points="408,738.6 408,773.7 410,773.9 410,738.6" fill="#aaa"/>
<polygon points="410.4,738.6 410.4,777.8 411.7,777.8 411.7,738.6" fill="#555"/>
</g>
<line x1="248.5" y1="805.8" x2="423.5" y2="805.8" stroke="#3a3a3a" stroke-width="1.0"/>
<rect x="259.1" y="801.8" width="0.7" height="8" fill="#707070"/>
<rect x="260.2" y="801.8" width="0.9" height="8" fill="#333333"/>
<rect x="269" y="801.8" width="0.8" height="8" fill="#3d3d3d"/>
<rect x="271.6" y="801.8" width="0.7" height="8" fill="#474747"/>
<line x1="273.9" y1="801.8" x2="273.9" y2="809.8" stroke="#000" stroke-width="1.6"/>
<rect x="276.9" y="801.8" width="0.8" height="8" fill="#333333"/>
<rect x="281.2" y="801.8" width="1.6" height="8" fill="#282828"/>
<rect x="286.1" y="801.8" width="0.8" height="8" fill="#5b5b5b"/>
<line x1="290.1" y1="801.8" x2="290.1" y2="809.8" stroke="#000" stroke-width="1.01"/>
<line x1="291.5" y1="801.8" x2="291.5" y2="809.8" stroke="#000" stroke-width="1.01"/>
<line x1="292.9" y1="801.8" x2="292.9" y2="809.8" stroke="#000" stroke-width="1.01"/>
<rect x="298.8" y="801.8" width="0.8" height="8" fill="#282828"/>
<rect x="301.8" y="801.8" width="0.8" height="8" fill="#474747"/>
<rect x="304.1" y="801.8" width="0.8" height="8" fill="#474747"/>
<rect x="306" y="801.8" width="0.8" height="8" fill="#282828"/>
<rect x="309.3" y="801.8" width="0.8" height="8" fill="#1e1e1e"/>
<rect x="315.2" y="801.8" width="0.8" height="8" fill="#7a7a7a"/>
<line x1="319.57" y1="801.8" x2="319.57" y2="809.8" stroke="#000" stroke-width="1.12"/>
<line x1="320.9" y1="801.8" x2="320.9" y2="809.8" stroke="#000" stroke-width="1.12"/>
<line x1="322.23" y1="801.8" x2="322.23" y2="809.8" stroke="#000" stroke-width="1.12"/>
<line x1="325.62" y1="801.8" x2="325.62" y2="809.8" stroke="#000" stroke-width="1.26"/>
<line x1="327.28" y1="801.8" x2="327.28" y2="809.8" stroke="#000" stroke-width="1.26"/>
<line x1="330.75" y1="801.8" x2="330.75" y2="809.8" stroke="#000" stroke-width="1.04"/>
<line x1="332.05" y1="801.8" x2="332.05" y2="809.8" stroke="#000" stroke-width="1.04"/>
<line x1="333.35" y1="801.8" x2="333.35" y2="809.8" stroke="#000" stroke-width="1.04"/>
<line x1="337.8" y1="801.8" x2="337.8" y2="809.8" stroke="#000" stroke-width="1.44"/>
<rect x="339.6" y="801.8" width="1" height="8" fill="#515151"/>
<line x1="342.75" y1="801.8" x2="342.75" y2="809.8" stroke="#000" stroke-width="1.6"/>
<line x1="345.43" y1="801.8" x2="345.43" y2="809.8" stroke="#000" stroke-width="0.9"/>
<line x1="346.68" y1="801.8" x2="346.68" y2="809.8" stroke="#000" stroke-width="0.9"/>
<rect x="347.3" y="801.8" width="1.6" height="8" fill="#1e1e1e"/>
<line x1="353.5" y1="801.8" x2="353.5" y2="809.8" stroke="#000" stroke-width="1.29"/>
<rect x="356.3" y="801.8" width="0.9" height="8" fill="#474747"/>
<line x1="359.05" y1="801.8" x2="359.05" y2="809.8" stroke="#000" stroke-width="1.75"/>
<line x1="361" y1="801.8" x2="361" y2="809.8" stroke="#000" stroke-width="0.96"/>
<line x1="362.2" y1="801.8" x2="362.2" y2="809.8" stroke="#000" stroke-width="0.96"/>
<line x1="365.6" y1="801.8" x2="365.6" y2="809.8" stroke="#000" stroke-width="1.01"/>
<line x1="366.8" y1="801.8" x2="366.8" y2="809.8" stroke="#000" stroke-width="1.01"/>
<rect x="370.8" y="801.8" width="1.7" height="8" fill="#515151"/>
<line x1="375.7" y1="801.8" x2="375.7" y2="809.8" stroke="#000" stroke-width="1.69"/>
<rect x="378" y="801.8" width="1.2" height="8" fill="#7a7a7a"/>
<line x1="382.95" y1="801.8" x2="382.95" y2="809.8" stroke="#000" stroke-width="1.6"/>
<line x1="392.52" y1="801.8" x2="392.52" y2="809.8" stroke="#000" stroke-width="0.9"/>
<line x1="393.77" y1="801.8" x2="393.77" y2="809.8" stroke="#000" stroke-width="0.9"/>
<rect x="395.5" y="801.8" width="1.4" height="8" fill="#333333"/>
<line x1="409" y1="801.8" x2="409" y2="809.8" stroke="#000" stroke-width="1.2"/>
<rect x="410.4" y="801.8" width="1.3" height="8" fill="#333333"/>
<line x1="342.4" y1="787.5" x2="342.4" y2="871.5" stroke="#ff8c8c" stroke-width="0.9" stroke-dasharray="1.3,2.1"/>
<polyline points="256.5,805.3 259.4,811.6 260.5,791.9 269,807.7 269.7,801.7 271,803.7 272.3,800.4 274.2,793.9 275.6,796.5 277.3,795.2 280.4,801.7 282.1,796.5 285.4,802.4 288,804.4 290.7,804.4 293.3,803.7 298.6,814.2 299.9,814.9 305.8,822.1 307.8,823.4 318.9,845.8 322.2,849 325.5,854.3 328.1,855 330.1,858.9 332.1,856.5 333.8,858.2 336.9,862.4 338.9,863.1 342.4,866.1 343.8,863.1 345.9,864.4 349.3,857.5 352.8,864.4 354.9,862.4 356.3,863.8 357.7,863.1 359,858.2 360.4,849.9 363.2,846.4 365.3,844.3 367.4,832.5 369.2,836.7 371.5,823.5 373.6,826.3 376.4,815.9 379.9,814.5 381.9,819.4 384,811.7 391.9,827 393.7,817.3 396.5,806.2 409,829.1 409.9,819.4 411.7,797.9 414.9,804.8" fill="none" stroke="#19fa19" stroke-width="1.4" stroke-linejoin="round"/>
<line x1="256.3" y1="871.5" x2="256.3" y2="873.1" stroke="#7a7a7a" stroke-width="0.7"/>
<text x="256.3" y="877.5" font-size="6" text-anchor="middle" font-weight="normal" font-style="normal" fill="#4d4d4d" >0</text>
<line x1="297.18" y1="871.5" x2="297.18" y2="873.1" stroke="#7a7a7a" stroke-width="0.7"/>
<text x="297.18" y="877.5" font-size="6" text-anchor="middle" font-weight="normal" font-style="normal" fill="#4d4d4d" >2500</text>
<line x1="338.05" y1="871.5" x2="338.05" y2="873.1" stroke="#7a7a7a" stroke-width="0.7"/>
<text x="338.05" y="877.5" font-size="6" text-anchor="middle" font-weight="normal" font-style="normal" fill="#4d4d4d" >5000</text>
<line x1="378.93" y1="871.5" x2="378.93" y2="873.1" stroke="#7a7a7a" stroke-width="0.7"/>
<text x="378.93" y="877.5" font-size="6" text-anchor="middle" font-weight="normal" font-style="normal" fill="#4d4d4d" >7500</text>
<line x1="419.8" y1="871.5" x2="419.8" y2="873.1" stroke="#7a7a7a" stroke-width="0.7"/>
<text x="419.8" y="877.5" font-size="6" text-anchor="middle" font-weight="normal" font-style="normal" fill="#4d4d4d" >10000</text>
<text x="336.4" y="883.8" font-size="5.75" text-anchor="middle" font-weight="normal" font-style="normal" fill="#1a1a1a" >Position in the Ranked List of Genes</text>
<line x1="248.5" y1="698.5" x2="423.5" y2="698.5" stroke="#bdbdbd" stroke-width="1.3"/>
<polyline points="248.5,698.5 248.5,781.5 423.5,781.5 423.5,698.5" fill="none" stroke="#7a7a7a" stroke-width="1"/>
<line x1="248.5" y1="787.5" x2="423.5" y2="787.5" stroke="#bdbdbd" stroke-width="1.3"/>
<polyline points="248.5,787.5 248.5,871.5 423.5,871.5 423.5,787.5" fill="none" stroke="#7a7a7a" stroke-width="1"/>
<text x="442.6" y="688.5" font-size="23.5" text-anchor="start" font-weight="bold" font-style="normal" fill="#000" >k</text>
<text x="475.4" y="693.3" font-size="9" text-anchor="start" font-weight="normal" font-style="normal" fill="#1a1a1a" >ATP synthesis coupled Electron transport</text>
<line x1="499.09" y1="697.5" x2="499.09" y2="782" stroke="#f4f4f4" stroke-width="0.6"/>
<line x1="540.26" y1="697.5" x2="540.26" y2="782" stroke="#f4f4f4" stroke-width="0.6"/>
<line x1="581.44" y1="697.5" x2="581.44" y2="782" stroke="#f4f4f4" stroke-width="0.6"/>
<line x1="622.61" y1="697.5" x2="622.61" y2="782" stroke="#f4f4f4" stroke-width="0.6"/>
<line x1="470.5" y1="776.3" x2="646.5" y2="776.3" stroke="#f4f4f4" stroke-width="0.6"/>
<line x1="470.5" y1="750.3" x2="646.5" y2="750.3" stroke="#f4f4f4" stroke-width="0.6"/>
<line x1="470.5" y1="724.3" x2="646.5" y2="724.3" stroke="#f4f4f4" stroke-width="0.6"/>
<line x1="470.5" y1="698.3" x2="646.5" y2="698.3" stroke="#f4f4f4" stroke-width="0.6"/>
<line x1="478.5" y1="697.5" x2="478.5" y2="782" stroke="#ebebeb" stroke-width="0.8"/>
<line x1="519.67" y1="697.5" x2="519.67" y2="782" stroke="#ebebeb" stroke-width="0.8"/>
<line x1="560.85" y1="697.5" x2="560.85" y2="782" stroke="#ebebeb" stroke-width="0.8"/>
<line x1="602.02" y1="697.5" x2="602.02" y2="782" stroke="#ebebeb" stroke-width="0.8"/>
<line x1="643.2" y1="697.5" x2="643.2" y2="782" stroke="#ebebeb" stroke-width="0.8"/>
<line x1="470.5" y1="763.3" x2="646.5" y2="763.3" stroke="#ebebeb" stroke-width="0.8"/>
<line x1="468.9" y1="763.3" x2="470.5" y2="763.3" stroke="#7a7a7a" stroke-width="0.7"/>
<text x="468.3" y="765.46" font-size="6" text-anchor="end" font-weight="normal" font-style="normal" fill="#4d4d4d" >-1</text>
<line x1="470.5" y1="737.3" x2="646.5" y2="737.3" stroke="#ebebeb" stroke-width="0.8"/>
<line x1="468.9" y1="737.3" x2="470.5" y2="737.3" stroke="#7a7a7a" stroke-width="0.7"/>
<text x="468.3" y="739.46" font-size="6" text-anchor="end" font-weight="normal" font-style="normal" fill="#4d4d4d" >0</text>
<line x1="470.5" y1="711.3" x2="646.5" y2="711.3" stroke="#ebebeb" stroke-width="0.8"/>
<line x1="468.9" y1="711.3" x2="470.5" y2="711.3" stroke="#7a7a7a" stroke-width="0.7"/>
<text x="468.3" y="713.46" font-size="6" text-anchor="end" font-weight="normal" font-style="normal" fill="#4d4d4d" >1</text>
<text transform="translate(451.7,739.75) rotate(-90)" font-size="5.8" text-anchor="middle" font-weight="normal" fill="#1a1a1a" >Ranked List Metric</text>
<line x1="499.09" y1="787.5" x2="499.09" y2="872" stroke="#f4f4f4" stroke-width="0.6"/>
<line x1="540.26" y1="787.5" x2="540.26" y2="872" stroke="#f4f4f4" stroke-width="0.6"/>
<line x1="581.44" y1="787.5" x2="581.44" y2="872" stroke="#f4f4f4" stroke-width="0.6"/>
<line x1="622.61" y1="787.5" x2="622.61" y2="872" stroke="#f4f4f4" stroke-width="0.6"/>
<line x1="470.5" y1="863.8" x2="646.5" y2="863.8" stroke="#f4f4f4" stroke-width="0.6"/>
<line x1="470.5" y1="848.8" x2="646.5" y2="848.8" stroke="#f4f4f4" stroke-width="0.6"/>
<line x1="470.5" y1="833.8" x2="646.5" y2="833.8" stroke="#f4f4f4" stroke-width="0.6"/>
<line x1="470.5" y1="818.8" x2="646.5" y2="818.8" stroke="#f4f4f4" stroke-width="0.6"/>
<line x1="470.5" y1="803.8" x2="646.5" y2="803.8" stroke="#f4f4f4" stroke-width="0.6"/>
<line x1="470.5" y1="788.8" x2="646.5" y2="788.8" stroke="#f4f4f4" stroke-width="0.6"/>
<line x1="478.5" y1="787.5" x2="478.5" y2="872" stroke="#ebebeb" stroke-width="0.8"/>
<line x1="519.67" y1="787.5" x2="519.67" y2="872" stroke="#ebebeb" stroke-width="0.8"/>
<line x1="560.85" y1="787.5" x2="560.85" y2="872" stroke="#ebebeb" stroke-width="0.8"/>
<line x1="602.02" y1="787.5" x2="602.02" y2="872" stroke="#ebebeb" stroke-width="0.8"/>
<line x1="643.2" y1="787.5" x2="643.2" y2="872" stroke="#ebebeb" stroke-width="0.8"/>
<line x1="470.5" y1="871.3" x2="646.5" y2="871.3" stroke="#ebebeb" stroke-width="0.8"/>
<line x1="468.9" y1="871.3" x2="470.5" y2="871.3" stroke="#7a7a7a" stroke-width="0.7"/>
<text x="468.3" y="873.46" font-size="6" text-anchor="end" font-weight="normal" font-style="normal" fill="#4d4d4d" >-0.15</text>
<line x1="470.5" y1="856.3" x2="646.5" y2="856.3" stroke="#ebebeb" stroke-width="0.8"/>
<line x1="468.9" y1="856.3" x2="470.5" y2="856.3" stroke="#7a7a7a" stroke-width="0.7"/>
<text x="468.3" y="858.46" font-size="6" text-anchor="end" font-weight="normal" font-style="normal" fill="#4d4d4d" >-0.10</text>
<line x1="470.5" y1="841.3" x2="646.5" y2="841.3" stroke="#ebebeb" stroke-width="0.8"/>
<line x1="468.9" y1="841.3" x2="470.5" y2="841.3" stroke="#7a7a7a" stroke-width="0.7"/>
<text x="468.3" y="843.46" font-size="6" text-anchor="end" font-weight="normal" font-style="normal" fill="#4d4d4d" >-0.05</text>
<line x1="470.5" y1="826.3" x2="646.5" y2="826.3" stroke="#ebebeb" stroke-width="0.8"/>
<line x1="468.9" y1="826.3" x2="470.5" y2="826.3" stroke="#7a7a7a" stroke-width="0.7"/>
<text x="468.3" y="828.46" font-size="6" text-anchor="end" font-weight="normal" font-style="normal" fill="#4d4d4d" >0.00</text>
<line x1="470.5" y1="811.3" x2="646.5" y2="811.3" stroke="#ebebeb" stroke-width="0.8"/>
<line x1="468.9" y1="811.3" x2="470.5" y2="811.3" stroke="#7a7a7a" stroke-width="0.7"/>
<text x="468.3" y="813.46" font-size="6" text-anchor="end" font-weight="normal" font-style="normal" fill="#4d4d4d" >0.05</text>
<line x1="470.5" y1="796.3" x2="646.5" y2="796.3" stroke="#ebebeb" stroke-width="0.8"/>
<line x1="468.9" y1="796.3" x2="470.5" y2="796.3" stroke="#7a7a7a" stroke-width="0.7"/>
<text x="468.3" y="798.46" font-size="6" text-anchor="end" font-weight="normal" font-style="normal" fill="#4d4d4d" >0.10</text>
<text transform="translate(451.7,829.75) rotate(-90)" font-size="5.8" text-anchor="middle" font-weight="normal" fill="#1a1a1a" >Running Enrichment Score</text>
<g>
<polygon points="482,737.3 482,701.3 482.5,701.3 483,702.19 483,737.3" fill="#333"/>
<polygon points="488,737.3 488,711.09 488.4,711.8 488.8,712.47 488.8,737.3" fill="#666"/>
<polygon points="490.3,737.3 490.3,715 492.3,716.7 492.3,737.3" fill="#555"/>
<polygon points="492.3,737.3 492.3,716.7 493.6,717.3 493.6,737.3" fill="#888"/>
<polygon points="494.9,737.3 494.9,718.52 495.3,718.9 495.7,719.16 495.7,737.3" fill="#555"/>
<polygon points="498.1,737.3 498.1,720.74 498.5,721 498.9,721.26 498.9,737.3" fill="#444"/>
<polygon points="503.7,737.3 503.7,724.34 504.1,724.6 504.5,724.83 504.5,737.3" fill="#333"/>
<polygon points="507.4,737.3 507.4,726.5 509.8,727.2 509.8,737.3" fill="#999"/>
<polygon points="511.4,737.3 511.4,728.5 512.4,728.7 512.4,737.3" fill="#444"/>
<polygon points="514.9,737.3 514.9,729.99 515.3,730.2 515.7,730.38 515.7,737.3" fill="#666"/>
<polygon points="520.3,737.3 520.3,732.4 522.5,733.1 522.5,737.3" fill="#777"/>
<polygon points="526.1,737.3 526.1,734.27 526.5,734.4 526.9,734.51 526.9,737.3" fill="#555"/>
<polygon points="528.2,737.3 528.2,734.86 529.1,735.1 529.1,737.3" fill="#333"/>
<polygon points="532.4,737.3 532.4,736.5 533,736.61 533,737.3" fill="#ccc"/>
<polygon points="534.5,737.3 534.5,736.88 535,736.97 535,737.3" fill="#ccc"/>
<polygon points="536,737.3 536,737.15 536.3,737.2 536.5,737.32 536.5,737.3" fill="#ccc"/>
<polygon points="538.3,737.3 538.3,738.4 540,738.6 540,737.3" fill="#555"/>
<polygon points="540.9,737.3 540.9,738.93 542.2,739.4 542.2,737.3" fill="#444"/>
<polygon points="543.5,737.3 543.5,739.64 544.9,739.9 544.9,737.3" fill="#666"/>
<polygon points="546.2,737.3 546.2,740.45 547.5,741 547.5,737.3" fill="#555"/>
<polygon points="548.1,737.3 548.1,741.11 550.8,741.6 550.8,737.3" fill="#111"/>
<polygon points="553,737.3 553,742.19 553.4,742.3 553.8,742.4 553.8,737.3" fill="#999"/>
<polygon points="555.7,737.3 555.7,742.86 556.3,743 556.6,743.08 556.6,737.3" fill="#777"/>
<polygon points="558.2,737.3 558.2,743.5 561.6,744.7 561.6,737.3" fill="#555"/>
<polygon points="565.1,737.3 565.1,745.31 566.8,745.6 566.8,737.3" fill="#444"/>
<polygon points="568.6,737.3 568.6,746.3 571.3,747.4 571.3,737.3" fill="#888"/>
<polygon points="578.3,737.3 578.3,749 581,749.1 581,737.3" fill="#333"/>
<polygon points="582.4,737.3 582.4,749.45 583.8,749.8 583.8,737.3" fill="#777"/>
<polygon points="585.2,737.3 585.2,750.5 589.8,751.9 589.8,737.3" fill="#222"/>
<polygon points="592.1,737.3 592.1,752.34 593.5,752.6 593.5,737.3" fill="#555"/>
<polygon points="596.3,737.3 596.3,753.4 598.4,754 598.4,737.3" fill="#444"/>
<polygon points="601.2,737.3 601.2,754.89 602.5,755.3 602.5,737.3" fill="#777"/>
<polygon points="606,737.3 606,756.39 607,756.7 607,737.3" fill="#bbb"/>
<polygon points="615,737.3 615,760.19 615.7,760.5 615.7,737.3" fill="#555"/>
<polygon points="622,737.3 622,764.3 623.4,764.5 623.4,737.3" fill="#aaa"/>
<polygon points="624,737.3 624,765.7 625,765.7 625,737.3" fill="#555"/>
<polygon points="632.4,737.3 632.4,774.7 633.3,775 633.3,737.3" fill="#888"/>
<polygon points="633.8,737.3 633.8,778.2 634.7,778.2 634.7,737.3" fill="#555"/>
</g>
<line x1="470.5" y1="826.3" x2="646.5" y2="826.3" stroke="#3a3a3a" stroke-width="1.0"/>
<rect x="482" y="822.3" width="1" height="8" fill="#1e1e1e"/>
<rect x="488" y="822.3" width="0.8" height="8" fill="#3d3d3d"/>
<line x1="491.3" y1="822.3" x2="491.3" y2="830.3" stroke="#000" stroke-width="1.6"/>
<rect x="492.3" y="822.3" width="1.3" height="8" fill="#515151"/>
<rect x="494.9" y="822.3" width="0.8" height="8" fill="#333333"/>
<rect x="498.1" y="822.3" width="0.8" height="8" fill="#282828"/>
<rect x="503.7" y="822.3" width="0.8" height="8" fill="#1e1e1e"/>
<line x1="508" y1="822.3" x2="508" y2="830.3" stroke="#000" stroke-width="0.77"/>
<line x1="509.2" y1="822.3" x2="509.2" y2="830.3" stroke="#000" stroke-width="0.77"/>
<rect x="511.4" y="822.3" width="1" height="8" fill="#282828"/>
<rect x="514.9" y="822.3" width="0.8" height="8" fill="#3d3d3d"/>
<line x1="521.4" y1="822.3" x2="521.4" y2="830.3" stroke="#000" stroke-width="1.59"/>
<rect x="526.1" y="822.3" width="0.8" height="8" fill="#333333"/>
<rect x="528.2" y="822.3" width="0.9" height="8" fill="#1e1e1e"/>
<rect x="532.4" y="822.3" width="0.6" height="8" fill="#7a7a7a"/>
<rect x="534.5" y="822.3" width="0.5" height="8" fill="#7a7a7a"/>
<rect x="536" y="822.3" width="0.5" height="8" fill="#7a7a7a"/>
<rect x="538.3" y="822.3" width="1.7" height="8" fill="#333333"/>
<rect x="540.9" y="822.3" width="1.3" height="8" fill="#282828"/>
<rect x="543.5" y="822.3" width="1.4" height="8" fill="#3d3d3d"/>
<rect x="546.2" y="822.3" width="1.3" height="8" fill="#333333"/>
<line x1="548.77" y1="822.3" x2="548.77" y2="830.3" stroke="#000" stroke-width="1.3"/>
<line x1="550.12" y1="822.3" x2="550.12" y2="830.3" stroke="#000" stroke-width="1.3"/>
<rect x="553" y="822.3" width="0.8" height="8" fill="#5b5b5b"/>
<rect x="555.7" y="822.3" width="0.9" height="8" fill="#474747"/>
<line x1="559.05" y1="822.3" x2="559.05" y2="830.3" stroke="#000" stroke-width="1.36"/>
<line x1="560.75" y1="822.3" x2="560.75" y2="830.3" stroke="#000" stroke-width="1.36"/>
<rect x="565.1" y="822.3" width="1.7" height="8" fill="#282828"/>
<line x1="569.27" y1="822.3" x2="569.27" y2="830.3" stroke="#000" stroke-width="0.92"/>
<line x1="570.62" y1="822.3" x2="570.62" y2="830.3" stroke="#000" stroke-width="0.92"/>
<line x1="578.97" y1="822.3" x2="578.97" y2="830.3" stroke="#000" stroke-width="1.19"/>
<line x1="580.33" y1="822.3" x2="580.33" y2="830.3" stroke="#000" stroke-width="1.19"/>
<rect x="582.4" y="822.3" width="1.4" height="8" fill="#474747"/>
<line x1="585.97" y1="822.3" x2="585.97" y2="830.3" stroke="#000" stroke-width="1.41"/>
<line x1="587.5" y1="822.3" x2="587.5" y2="830.3" stroke="#000" stroke-width="1.41"/>
<line x1="589.03" y1="822.3" x2="589.03" y2="830.3" stroke="#000" stroke-width="1.41"/>
<rect x="592.1" y="822.3" width="1.4" height="8" fill="#333333"/>
<line x1="597.35" y1="822.3" x2="597.35" y2="830.3" stroke="#000" stroke-width="1.77"/>
<rect x="601.2" y="822.3" width="1.3" height="8" fill="#474747"/>
<rect x="606" y="822.3" width="1" height="8" fill="#707070"/>
<rect x="615" y="822.3" width="0.7" height="8" fill="#333333"/>
<rect x="622" y="822.3" width="1.4" height="8" fill="#666666"/>
<rect x="624" y="822.3" width="1" height="8" fill="#333333"/>
<rect x="632.4" y="822.3" width="0.9" height="8" fill="#515151"/>
<rect x="633.8" y="822.3" width="0.9" height="8" fill="#333333"/>
<line x1="578.5" y1="787.5" x2="578.5" y2="872" stroke="#ff8c8c" stroke-width="0.9" stroke-dasharray="1.3,2.1"/>
<polyline points="478.5,826.4 482.5,833.9 482.7,810.6 487.7,820.2 488.8,812.9 490.3,816.5 491.6,804.1 493,798.8 495.3,803.4 495.9,792.2 497.6,796.2 498.9,791.6 503.5,800.8 504.8,794.9 507.4,800.1 509,796.8 510.3,798.1 512,794.9 516,800.8 519.9,806.7 521.9,808 527.1,815.9 529.1,817.2 535,827 540.9,837.6 546.8,845.4 550.5,844.8 554,848.8 556.8,853 559.5,855 561.6,852.7 564.4,856.4 566.5,857.8 567.9,856.4 569.3,858.2 570.6,855 572.7,857.1 578.3,867.5 579,858.5 581,855 581.7,845.3 583.8,846.7 585.2,843.9 586.6,846 587.3,833.5 589.4,826.6 590.8,825.2 592.8,818.3 594.9,821.8 596.3,819.7 598.4,816.6 600.5,821.1 601.9,817.6 604.6,823.1 606.7,820.4 615,836 615.7,832.2 622,841.2 622.7,837 624.7,827.3 633.1,841.9 633.8,830.8 634.7,818.6 638.6,825.9" fill="none" stroke="#19fa19" stroke-width="1.4" stroke-linejoin="round"/>
<line x1="478.5" y1="872" x2="478.5" y2="873.6" stroke="#7a7a7a" stroke-width="0.7"/>
<text x="478.5" y="878.4" font-size="6" text-anchor="middle" font-weight="normal" font-style="normal" fill="#4d4d4d" >0</text>
<line x1="519.67" y1="872" x2="519.67" y2="873.6" stroke="#7a7a7a" stroke-width="0.7"/>
<text x="519.67" y="878.4" font-size="6" text-anchor="middle" font-weight="normal" font-style="normal" fill="#4d4d4d" >2500</text>
<line x1="560.85" y1="872" x2="560.85" y2="873.6" stroke="#7a7a7a" stroke-width="0.7"/>
<text x="560.85" y="878.4" font-size="6" text-anchor="middle" font-weight="normal" font-style="normal" fill="#4d4d4d" >5000</text>
<line x1="602.02" y1="872" x2="602.02" y2="873.6" stroke="#7a7a7a" stroke-width="0.7"/>
<text x="602.02" y="878.4" font-size="6" text-anchor="middle" font-weight="normal" font-style="normal" fill="#4d4d4d" >7500</text>
<line x1="643.2" y1="872" x2="643.2" y2="873.6" stroke="#7a7a7a" stroke-width="0.7"/>
<text x="643.2" y="878.4" font-size="6" text-anchor="middle" font-weight="normal" font-style="normal" fill="#4d4d4d" >10000</text>
<text x="558.5" y="885.5" font-size="5.75" text-anchor="middle" font-weight="normal" font-style="normal" fill="#1a1a1a" >Position in the Ranked List of Genes</text>
<line x1="470.5" y1="697.5" x2="646.5" y2="697.5" stroke="#bdbdbd" stroke-width="1.3"/>
<polyline points="470.5,697.5 470.5,782 646.5,782 646.5,697.5" fill="none" stroke="#7a7a7a" stroke-width="1"/>
<line x1="470.5" y1="787.5" x2="646.5" y2="787.5" stroke="#bdbdbd" stroke-width="1.3"/>
<polyline points="470.5,787.5 470.5,872 646.5,872 646.5,787.5" fill="none" stroke="#7a7a7a" stroke-width="1"/>
<line x1="433.4" y1="451" x2="433.4" y2="652" stroke="#eeeeee" stroke-width="0.8"/>
<text transform="translate(665.1,557.8) rotate(90)" font-size="20.2" text-anchor="middle" font-weight="bold" fill="#000" textLength="166.6" lengthAdjust="spacingAndGlyphs">HSV Sero+ve (n=7)</text>
<text transform="translate(665.1,785.5) rotate(90)" font-size="20.2" text-anchor="middle" font-weight="bold" fill="#000" textLength="162.1" lengthAdjust="spacingAndGlyphs">HSV Sero-ve (n=3)</text>
</svg>
</body></html>
